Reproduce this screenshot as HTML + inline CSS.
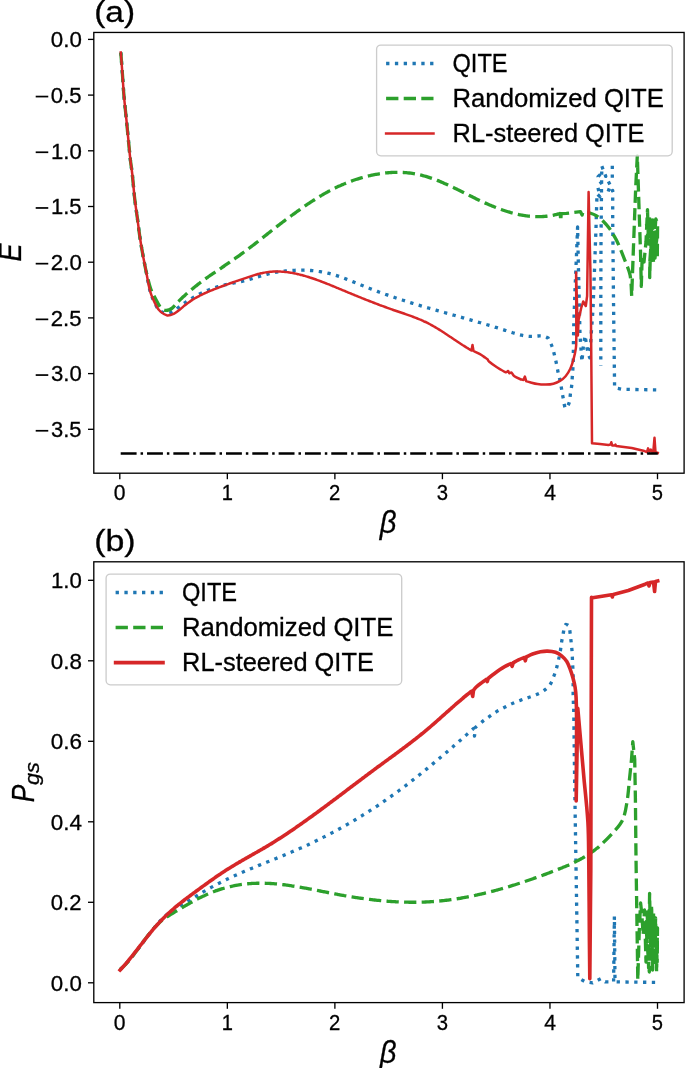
<!DOCTYPE html>
<html><head><meta charset="utf-8"><style>
html,body{margin:0;padding:0;background:#fff;overflow:hidden;}
svg{display:block;}
text{font-family:"Liberation Sans",sans-serif;fill:#000;stroke:#000;stroke-width:0.3px;filter:grayscale(1);}
</style></head><body>
<svg width="685" height="1068" viewBox="0 0 685 1068">
<rect width="685" height="1068" fill="#fff"/>
<g fill="none" stroke-linejoin="round">
<path d="M120.80,52.50 C121.07,56.03 121.87,66.42 122.40,73.70 C122.93,80.98 123.35,88.70 124.00,96.20 C124.65,103.70 125.55,111.22 126.30,118.70 C127.05,126.18 127.82,134.22 128.50,141.10 C129.18,147.98 129.77,154.47 130.40,160.00 C131.03,165.53 131.58,167.85 132.30,174.30 C133.02,180.75 133.88,191.60 134.70,198.70 C135.52,205.80 136.38,210.82 137.20,216.90 C138.02,222.98 138.70,229.12 139.60,235.20 C140.50,241.28 141.50,247.30 142.60,253.40 C143.70,259.50 144.92,265.38 146.20,271.80 C147.48,278.22 148.63,286.20 150.30,291.90 C151.97,297.60 154.42,302.77 156.20,306.00 C157.98,309.23 158.97,310.07 161.00,311.30 C163.03,312.53 165.90,313.70 168.40,313.40 C170.90,313.10 174.48,310.35 176.00,309.50 C177.52,308.65 177.00,308.69 177.50,308.30 C178.00,307.90 178.50,307.50 179.01,307.11 C179.51,306.72 180.01,306.34 180.51,305.96 C181.01,305.58 181.51,305.21 182.01,304.84 C182.51,304.47 183.01,304.11 183.51,303.75 C184.02,303.39 184.52,303.04 185.02,302.69 C185.52,302.35 186.02,302.00 186.52,301.67 C187.02,301.33 187.52,301.00 188.02,300.67 C188.52,300.35 189.02,300.03 189.53,299.71 C190.03,299.39 190.53,299.08 191.03,298.78 C191.53,298.47 192.03,298.17 192.53,297.87 C193.03,297.58 193.53,297.28 194.03,297.00 C194.53,296.71 195.04,296.43 195.54,296.15 C196.04,295.87 196.54,295.60 197.04,295.33 C197.54,295.07 198.04,294.80 198.54,294.55 C199.04,294.29 199.54,294.03 200.05,293.78 C200.55,293.54 201.05,293.29 201.55,293.05 C202.05,292.81 202.55,292.58 203.05,292.34 C203.55,292.11 204.05,291.89 204.55,291.66 C205.05,291.44 205.56,291.22 206.06,291.01 C206.56,290.80 207.06,290.59 207.56,290.38 C208.06,290.18 208.56,289.97 209.06,289.78 C209.56,289.58 210.06,289.39 210.56,289.20 C211.07,289.01 211.57,288.83 212.07,288.65 C212.57,288.47 213.07,288.29 213.57,288.12 C214.07,287.95 214.57,287.78 215.07,287.61 C215.57,287.45 216.08,287.29 216.58,287.13 C217.08,286.97 217.58,286.82 218.08,286.67 C218.58,286.52 219.08,286.38 219.58,286.24 C220.08,286.09 220.58,285.96 221.08,285.82 C221.59,285.69 222.09,285.56 222.59,285.43 C223.09,285.30 223.59,285.18 224.09,285.06 C224.59,284.94 225.09,284.82 225.59,284.70 C226.09,284.59 226.60,284.48 227.10,284.37 C227.60,284.26 228.10,284.15 228.60,284.04 C229.10,283.94 229.60,283.83 230.10,283.73 C230.60,283.62 231.10,283.52 231.60,283.42 C232.11,283.32 232.61,283.22 233.11,283.12 C233.61,283.02 234.11,282.92 234.61,282.82 C235.11,282.72 235.61,282.62 236.11,282.52 C236.61,282.42 237.11,282.32 237.62,282.21 C238.12,282.11 238.62,282.01 239.12,281.91 C239.62,281.80 240.12,281.70 240.62,281.59 C241.12,281.48 241.62,281.37 242.12,281.26 C242.63,281.15 243.13,281.04 243.63,280.92 C244.13,280.80 244.63,280.69 245.13,280.56 C245.63,280.44 246.13,280.32 246.63,280.19 C247.13,280.06 247.63,279.93 248.14,279.79 C248.64,279.65 249.14,279.51 249.64,279.37 C250.14,279.23 250.64,279.08 251.14,278.94 C251.64,278.79 252.14,278.64 252.64,278.49 C253.14,278.34 253.65,278.18 254.15,278.03 C254.65,277.87 255.15,277.72 255.65,277.56 C256.15,277.41 256.65,277.25 257.15,277.09 C257.65,276.94 258.15,276.78 258.66,276.63 C259.16,276.47 259.66,276.32 260.16,276.16 C260.66,276.01 261.16,275.86 261.66,275.71 C262.16,275.56 262.66,275.41 263.16,275.27 C263.66,275.13 264.17,274.98 264.67,274.85 C265.17,274.71 265.67,274.57 266.17,274.44 C266.67,274.31 267.17,274.18 267.67,274.06 C268.17,273.93 268.67,273.81 269.18,273.69 C269.68,273.57 270.18,273.46 270.68,273.35 C271.18,273.24 271.68,273.13 272.18,273.02 C272.68,272.92 273.18,272.82 273.68,272.72 C274.18,272.62 274.69,272.52 275.19,272.43 C275.69,272.34 276.19,272.25 276.69,272.16 C277.19,272.08 277.69,272.00 278.19,271.92 C278.69,271.84 279.19,271.76 279.69,271.68 C280.20,271.61 280.70,271.54 281.20,271.47 C281.70,271.40 282.20,271.34 282.70,271.28 C283.20,271.21 283.70,271.15 284.20,271.10 C284.70,271.04 285.21,270.99 285.71,270.94 C286.21,270.88 286.71,270.84 287.21,270.79 C287.71,270.74 288.21,270.70 288.71,270.66 C289.21,270.62 289.71,270.58 290.21,270.55 C290.72,270.51 291.22,270.48 291.72,270.45 C292.22,270.42 292.72,270.39 293.22,270.37 C293.72,270.34 294.22,270.32 294.72,270.30 C295.22,270.28 295.72,270.26 296.23,270.25 C296.73,270.23 297.23,270.22 297.73,270.21 C298.23,270.20 298.73,270.19 299.23,270.19 C299.73,270.18 300.23,270.18 300.73,270.18 C301.24,270.17 301.74,270.17 302.24,270.18 C302.74,270.18 303.24,270.19 303.74,270.20 C304.24,270.21 304.74,270.22 305.24,270.23 C305.74,270.24 306.24,270.26 306.75,270.28 C307.25,270.30 307.75,270.32 308.25,270.35 C308.75,270.37 309.25,270.40 309.75,270.43 C310.25,270.46 310.75,270.50 311.25,270.53 C311.75,270.57 312.26,270.61 312.76,270.65 C313.26,270.70 313.76,270.75 314.26,270.80 C314.76,270.85 315.26,270.90 315.76,270.96 C316.26,271.02 316.76,271.08 317.27,271.14 C317.77,271.21 318.27,271.28 318.77,271.35 C319.27,271.42 319.77,271.50 320.27,271.58 C320.77,271.66 321.27,271.74 321.77,271.83 C322.27,271.92 322.78,272.01 323.28,272.10 C323.78,272.20 324.28,272.30 324.78,272.41 C325.28,272.51 325.78,272.62 326.28,272.73 C326.78,272.85 327.28,272.96 327.79,273.09 C328.29,273.21 328.79,273.33 329.29,273.46 C329.79,273.59 330.29,273.73 330.79,273.86 C331.29,274.00 331.79,274.14 332.29,274.29 C332.79,274.43 333.30,274.58 333.80,274.73 C334.30,274.88 334.80,275.03 335.30,275.19 C335.80,275.35 336.30,275.51 336.80,275.67 C337.30,275.83 337.80,276.00 338.30,276.17 C338.81,276.34 339.31,276.51 339.81,276.68 C340.31,276.86 340.81,277.03 341.31,277.21 C341.81,277.39 342.31,277.57 342.81,277.75 C343.31,277.94 343.82,278.12 344.32,278.31 C344.82,278.50 345.32,278.68 345.82,278.88 C346.32,279.07 346.82,279.26 347.32,279.45 C347.82,279.65 348.32,279.84 348.82,280.04 C349.33,280.23 349.83,280.43 350.33,280.63 C350.83,280.83 351.33,281.03 351.83,281.23 C352.33,281.43 352.83,281.63 353.33,281.84 C353.83,282.04 354.33,282.24 354.84,282.45 C355.34,282.65 355.84,282.86 356.34,283.06 C356.84,283.27 357.34,283.47 357.84,283.68 C358.34,283.88 358.84,284.09 359.34,284.29 C359.85,284.50 360.35,284.70 360.85,284.91 C361.35,285.11 361.85,285.32 362.35,285.52 C362.85,285.73 363.35,285.93 363.85,286.13 C364.35,286.34 364.85,286.54 365.36,286.74 C365.86,286.94 366.36,287.14 366.86,287.34 C367.36,287.54 367.86,287.74 368.36,287.94 C368.86,288.14 369.36,288.33 369.86,288.53 C370.37,288.73 370.87,288.92 371.37,289.12 C371.87,289.31 372.37,289.50 372.87,289.69 C373.37,289.89 373.87,290.08 374.37,290.27 C374.87,290.46 375.37,290.65 375.88,290.84 C376.38,291.02 376.88,291.21 377.38,291.40 C377.88,291.58 378.38,291.77 378.88,291.95 C379.38,292.14 379.88,292.32 380.38,292.51 C380.88,292.69 381.39,292.87 381.89,293.05 C382.39,293.23 382.89,293.41 383.39,293.59 C383.89,293.77 384.39,293.95 384.89,294.13 C385.39,294.31 385.89,294.49 386.40,294.66 C386.90,294.84 387.40,295.01 387.90,295.19 C388.40,295.36 388.90,295.54 389.40,295.71 C389.90,295.89 390.40,296.06 390.90,296.23 C391.40,296.40 391.91,296.57 392.41,296.74 C392.91,296.91 393.41,297.08 393.91,297.25 C394.41,297.42 394.91,297.59 395.41,297.76 C395.91,297.92 396.41,298.09 396.91,298.26 C397.42,298.42 397.92,298.59 398.42,298.75 C398.92,298.92 399.42,299.08 399.92,299.25 C400.42,299.41 400.92,299.57 401.42,299.74 C401.92,299.90 402.43,300.06 402.93,300.22 C403.43,300.38 403.93,300.54 404.43,300.70 C404.93,300.86 405.43,301.02 405.93,301.18 C406.43,301.34 406.93,301.50 407.43,301.66 C407.94,301.82 408.44,301.97 408.94,302.13 C409.44,302.29 409.94,302.44 410.44,302.60 C410.94,302.75 411.44,302.91 411.94,303.06 C412.44,303.22 412.95,303.37 413.45,303.53 C413.95,303.68 414.45,303.83 414.95,303.99 C415.45,304.14 415.95,304.29 416.45,304.44 C416.95,304.59 417.45,304.75 417.95,304.90 C418.46,305.05 418.96,305.20 419.46,305.35 C419.96,305.50 420.46,305.65 420.96,305.80 C421.46,305.95 421.96,306.10 422.46,306.24 C422.96,306.39 423.46,306.54 423.97,306.69 C424.47,306.84 424.97,306.98 425.47,307.13 C425.97,307.28 426.47,307.43 426.97,307.57 C427.47,307.72 427.97,307.86 428.47,308.01 C428.98,308.16 429.48,308.30 429.98,308.45 C430.48,308.59 430.98,308.74 431.48,308.88 C431.98,309.03 432.48,309.17 432.98,309.32 C433.48,309.46 433.98,309.60 434.49,309.75 C434.99,309.89 435.49,310.03 435.99,310.18 C436.49,310.32 436.99,310.46 437.49,310.61 C437.99,310.75 438.49,310.89 438.99,311.04 C439.49,311.18 440.00,311.32 440.50,311.46 C441.00,311.60 441.50,311.75 442.00,311.89 C442.50,312.03 443.00,312.17 443.50,312.31 C444.00,312.46 444.50,312.60 445.01,312.74 C445.51,312.88 446.01,313.02 446.51,313.16 C447.01,313.30 447.51,313.44 448.01,313.58 C448.51,313.73 449.01,313.87 449.51,314.01 C450.01,314.15 450.52,314.29 451.02,314.43 C451.52,314.57 452.02,314.71 452.52,314.85 C453.02,314.99 453.52,315.13 454.02,315.27 C454.52,315.41 455.02,315.55 455.53,315.69 C456.03,315.84 456.53,315.98 457.03,316.12 C457.53,316.26 458.03,316.40 458.53,316.54 C459.03,316.68 459.53,316.82 460.03,316.96 C460.53,317.10 461.04,317.24 461.54,317.38 C462.04,317.52 462.54,317.67 463.04,317.81 C463.54,317.95 464.04,318.09 464.54,318.23 C465.04,318.37 465.54,318.51 466.04,318.66 C466.55,318.80 467.05,318.94 467.55,319.08 C468.05,319.22 468.55,319.36 469.05,319.51 C469.55,319.65 470.05,319.79 470.55,319.93 C471.05,320.08 471.56,320.22 472.06,320.36 C472.56,320.51 473.06,320.65 473.56,320.79 C474.06,320.94 474.56,321.08 475.06,321.22 C475.56,321.37 476.06,321.51 476.56,321.66 C477.07,321.80 477.57,321.94 478.07,322.09 C478.57,322.23 479.07,322.38 479.57,322.53 C480.07,322.67 480.57,322.82 481.07,322.96 C481.57,323.11 482.07,323.26 482.58,323.40 C483.08,323.55 483.58,323.70 484.08,323.84 C484.58,323.99 485.08,324.14 485.58,324.29 C486.08,324.44 486.58,324.58 487.08,324.73 C487.59,324.88 488.09,325.03 488.59,325.18 C489.09,325.33 489.59,325.48 490.09,325.63 C490.59,325.78 491.09,325.93 491.59,326.09 C492.09,326.24 492.59,326.39 493.10,326.54 C493.60,326.70 494.10,326.85 494.60,327.00 C495.10,327.16 495.60,327.31 496.10,327.46 C496.60,327.62 497.10,327.77 497.60,327.93 C498.10,328.08 498.61,328.24 499.11,328.40 C499.61,328.55 500.11,328.71 500.61,328.87 C501.11,329.03 501.61,329.18 502.11,329.34 C502.61,329.50 503.11,329.66 503.62,329.82 C504.12,329.98 504.62,330.14 505.12,330.30 C505.62,330.46 506.12,330.63 506.62,330.79 C507.12,330.95 507.62,331.11 508.12,331.28 C508.62,331.44 509.13,331.61 509.63,331.77 C510.13,331.93 510.63,332.10 511.13,332.26 C511.63,332.42 512.13,332.58 512.63,332.74 C513.13,332.90 513.63,333.06 514.14,333.21 C514.64,333.36 515.14,333.52 515.64,333.66 C516.14,333.81 516.64,333.96 517.14,334.10 C517.64,334.24 518.14,334.38 518.64,334.51 C519.14,334.64 519.65,334.77 520.15,334.89 C520.65,335.01 521.15,335.13 521.65,335.24 C522.15,335.35 522.65,335.46 523.15,335.55 C523.65,335.65 524.15,335.74 524.65,335.82 C525.16,335.91 525.66,335.98 526.16,336.05 C526.66,336.11 527.16,336.17 527.66,336.22 C528.16,336.27 528.66,336.31 529.16,336.34 C529.66,336.37 530.17,336.39 530.67,336.40 C531.17,336.41 531.67,336.41 532.17,336.40 C532.67,336.39 533.17,336.36 533.67,336.33 C534.17,336.30 534.67,336.25 535.17,336.21 C535.68,336.17 536.18,336.12 536.68,336.08 C537.18,336.04 537.68,336.00 538.18,335.97 C538.68,335.94 539.18,335.92 539.68,335.92 C540.18,335.91 540.68,335.92 541.19,335.95 C541.69,335.98 542.19,336.03 542.69,336.11 C543.19,336.19 543.69,336.29 544.19,336.43 C544.69,336.58 545.19,336.74 545.69,336.95 C546.20,337.16 546.70,337.41 547.20,337.70 C547.70,338.00 547.85,337.13 548.70,338.72 C549.55,340.30 551.32,344.39 552.30,347.20 C553.28,350.01 553.90,352.80 554.60,355.60 C555.30,358.40 555.90,361.12 556.50,364.00 C557.10,366.88 557.58,370.02 558.20,372.90 C558.82,375.78 559.62,378.48 560.20,381.30 C560.78,384.12 561.20,386.98 561.70,389.80 C562.20,392.62 562.57,395.12 563.20,398.20 C563.83,401.28 564.48,407.60 565.50,408.30 C566.52,409.00 568.48,404.78 569.30,402.40 C570.12,400.02 570.00,396.82 570.40,394.00 C570.80,391.18 571.38,388.40 571.70,385.50 C572.02,382.60 572.10,379.48 572.30,376.60 C572.50,373.72 572.73,371.08 572.90,368.20 C573.07,365.32 573.22,363.17 573.30,359.30 C573.38,355.43 573.32,350.85 573.40,345.00 C573.48,339.15 573.73,327.67 573.80,324.20 L575.00,290.00 L576.50,255.00 L577.60,227.00 L578.30,262.00 L579.20,300.00 L580.00,335.00 L581.90,361.70 L583.50,345.00 L585.10,335.50 L587.00,348.00 L588.40,354.00 L589.70,357.80 L591.50,330.00 L593.00,309.30 L594.50,270.00 L596.00,228.00 L597.00,193.80 L599.90,196.70 L597.40,185.00 L601.40,182.50 L598.10,176.60 L601.40,173.40 L605.80,176.30 L601.80,166.10 L601.50,190.00 L601.00,240.00 L600.80,300.00 L600.80,365.50 M612.30,165.70 L612.30,181.40 L607.20,184.00 L609.40,188.00 L607.60,193.10 L612.70,190.50 L612.70,220.00 L613.50,300.00 L614.60,387.70 L622.50,389.30 L640.00,389.60 L656.70,389.90" stroke="#1f77b4" stroke-width="3.32" stroke-dasharray="3.32 5.48"/>
<path d="M120.80,52.50 C121.07,56.03 121.87,66.42 122.40,73.70 C122.93,80.98 123.35,88.70 124.00,96.20 C124.65,103.70 125.55,111.22 126.30,118.70 C127.05,126.18 127.82,134.22 128.50,141.10 C129.18,147.98 129.77,154.47 130.40,160.00 C131.03,165.53 131.58,167.85 132.30,174.30 C133.02,180.75 133.88,191.60 134.70,198.70 C135.52,205.80 136.38,210.82 137.20,216.90 C138.02,222.98 138.70,229.12 139.60,235.20 C140.50,241.28 141.50,247.30 142.60,253.40 C143.70,259.50 145.05,266.53 146.20,271.80 C147.35,277.07 148.62,281.80 149.50,285.00 C150.38,288.20 150.78,289.25 151.50,291.00 C152.22,292.75 152.65,293.30 153.80,295.50 C154.95,297.70 157.10,302.02 158.40,304.20 C159.70,306.38 160.43,307.58 161.60,308.60 C162.77,309.62 164.17,310.10 165.40,310.30 C166.63,310.50 167.87,310.17 169.00,309.80 C170.13,309.43 171.03,309.02 172.20,308.10 C173.37,307.18 175.12,305.25 176.00,304.30 C176.88,303.35 177.00,302.97 177.51,302.40 C178.01,301.83 178.51,301.39 179.01,300.89 C179.51,300.40 180.01,299.91 180.52,299.42 C181.02,298.94 181.52,298.46 182.02,297.98 C182.52,297.51 183.02,297.04 183.53,296.58 C184.03,296.11 184.53,295.65 185.03,295.20 C185.53,294.74 186.03,294.29 186.54,293.85 C187.04,293.40 187.54,292.96 188.04,292.52 C188.54,292.09 189.04,291.66 189.55,291.23 C190.05,290.80 190.55,290.38 191.05,289.96 C191.55,289.54 192.05,289.12 192.56,288.71 C193.06,288.30 193.56,287.89 194.06,287.48 C194.56,287.08 195.06,286.68 195.57,286.28 C196.07,285.88 196.57,285.49 197.07,285.10 C197.57,284.71 198.07,284.32 198.58,283.94 C199.08,283.55 199.58,283.17 200.08,282.79 C200.58,282.41 201.08,282.04 201.59,281.66 C202.09,281.29 202.59,280.92 203.09,280.55 C203.59,280.18 204.10,279.82 204.60,279.45 C205.10,279.09 205.60,278.73 206.10,278.37 C206.60,278.01 207.11,277.65 207.61,277.30 C208.11,276.94 208.61,276.59 209.11,276.24 C209.61,275.89 210.12,275.54 210.62,275.19 C211.12,274.84 211.62,274.49 212.12,274.15 C212.62,273.80 213.13,273.46 213.63,273.11 C214.13,272.77 214.63,272.43 215.13,272.08 C215.63,271.74 216.14,271.40 216.64,271.06 C217.14,270.72 217.64,270.38 218.14,270.04 C218.64,269.71 219.15,269.37 219.65,269.03 C220.15,268.69 220.65,268.35 221.15,268.02 C221.65,267.68 222.16,267.34 222.66,267.00 C223.16,266.66 223.66,266.32 224.16,265.99 C224.66,265.65 225.17,265.31 225.67,264.97 C226.17,264.63 226.67,264.29 227.17,263.95 C227.68,263.61 228.18,263.27 228.68,262.92 C229.18,262.58 229.68,262.24 230.18,261.89 C230.69,261.55 231.19,261.20 231.69,260.85 C232.19,260.50 232.69,260.16 233.19,259.81 C233.70,259.45 234.20,259.10 234.70,258.75 C235.20,258.40 235.70,258.04 236.20,257.69 C236.71,257.33 237.21,256.97 237.71,256.62 C238.21,256.26 238.71,255.90 239.21,255.54 C239.72,255.18 240.22,254.81 240.72,254.45 C241.22,254.09 241.72,253.72 242.22,253.36 C242.73,252.99 243.23,252.62 243.73,252.25 C244.23,251.88 244.73,251.51 245.23,251.14 C245.74,250.77 246.24,250.40 246.74,250.02 C247.24,249.65 247.74,249.27 248.24,248.90 C248.75,248.52 249.25,248.14 249.75,247.76 C250.25,247.38 250.75,247.00 251.25,246.62 C251.76,246.24 252.26,245.86 252.76,245.47 C253.26,245.09 253.76,244.70 254.27,244.31 C254.77,243.93 255.27,243.54 255.77,243.15 C256.27,242.76 256.77,242.37 257.28,241.98 C257.78,241.58 258.28,241.19 258.78,240.80 C259.28,240.40 259.78,240.01 260.29,239.61 C260.79,239.22 261.29,238.82 261.79,238.42 C262.29,238.03 262.79,237.63 263.30,237.23 C263.80,236.83 264.30,236.44 264.80,236.04 C265.30,235.64 265.80,235.24 266.31,234.84 C266.81,234.45 267.31,234.05 267.81,233.65 C268.31,233.25 268.81,232.86 269.32,232.46 C269.82,232.06 270.32,231.67 270.82,231.27 C271.32,230.88 271.82,230.48 272.33,230.09 C272.83,229.69 273.33,229.30 273.83,228.91 C274.33,228.52 274.83,228.12 275.34,227.73 C275.84,227.34 276.34,226.96 276.84,226.57 C277.34,226.18 277.84,225.79 278.35,225.41 C278.85,225.02 279.35,224.64 279.85,224.25 C280.35,223.87 280.86,223.49 281.36,223.11 C281.86,222.73 282.36,222.34 282.86,221.97 C283.36,221.59 283.87,221.21 284.37,220.83 C284.87,220.45 285.37,220.08 285.87,219.70 C286.37,219.33 286.88,218.95 287.38,218.58 C287.88,218.21 288.38,217.84 288.88,217.47 C289.38,217.10 289.89,216.73 290.39,216.36 C290.89,215.99 291.39,215.62 291.89,215.26 C292.39,214.89 292.90,214.53 293.40,214.17 C293.90,213.80 294.40,213.44 294.90,213.08 C295.40,212.72 295.91,212.36 296.41,212.00 C296.91,211.64 297.41,211.28 297.91,210.93 C298.41,210.57 298.92,210.21 299.42,209.86 C299.92,209.51 300.42,209.16 300.92,208.80 C301.42,208.45 301.93,208.10 302.43,207.76 C302.93,207.41 303.43,207.06 303.93,206.72 C304.44,206.37 304.94,206.03 305.44,205.68 C305.94,205.34 306.44,205.00 306.94,204.66 C307.45,204.33 307.95,203.99 308.45,203.65 C308.95,203.32 309.45,202.99 309.95,202.65 C310.46,202.32 310.96,201.99 311.46,201.67 C311.96,201.34 312.46,201.01 312.96,200.69 C313.47,200.37 313.97,200.04 314.47,199.73 C314.97,199.41 315.47,199.09 315.97,198.77 C316.48,198.46 316.98,198.15 317.48,197.84 C317.98,197.53 318.48,197.22 318.98,196.91 C319.49,196.61 319.99,196.30 320.49,196.00 C320.99,195.70 321.49,195.40 321.99,195.11 C322.50,194.81 323.00,194.52 323.50,194.23 C324.00,193.93 324.50,193.65 325.00,193.36 C325.51,193.08 326.01,192.79 326.51,192.51 C327.01,192.23 327.51,191.96 328.01,191.68 C328.52,191.41 329.02,191.13 329.52,190.87 C330.02,190.60 330.52,190.33 331.03,190.07 C331.53,189.81 332.03,189.55 332.53,189.29 C333.03,189.03 333.53,188.78 334.04,188.53 C334.54,188.28 335.04,188.03 335.54,187.79 C336.04,187.55 336.54,187.30 337.05,187.07 C337.55,186.83 338.05,186.59 338.55,186.36 C339.05,186.13 339.55,185.90 340.06,185.68 C340.56,185.45 341.06,185.23 341.56,185.01 C342.06,184.79 342.56,184.57 343.07,184.36 C343.57,184.14 344.07,183.93 344.57,183.72 C345.07,183.52 345.57,183.31 346.08,183.11 C346.58,182.91 347.08,182.71 347.58,182.51 C348.08,182.32 348.58,182.12 349.09,181.93 C349.59,181.74 350.09,181.55 350.59,181.37 C351.09,181.18 351.59,181.00 352.10,180.82 C352.60,180.64 353.10,180.47 353.60,180.29 C354.10,180.12 354.60,179.95 355.11,179.78 C355.61,179.62 356.11,179.45 356.61,179.29 C357.11,179.13 357.62,178.97 358.12,178.81 C358.62,178.65 359.12,178.50 359.62,178.35 C360.12,178.20 360.63,178.05 361.13,177.90 C361.63,177.76 362.13,177.62 362.63,177.48 C363.13,177.33 363.64,177.20 364.14,177.06 C364.64,176.93 365.14,176.80 365.64,176.67 C366.14,176.54 366.65,176.41 367.15,176.29 C367.65,176.16 368.15,176.04 368.65,175.92 C369.15,175.80 369.66,175.69 370.16,175.57 C370.66,175.46 371.16,175.35 371.66,175.24 C372.16,175.13 372.67,175.03 373.17,174.92 C373.67,174.82 374.17,174.72 374.67,174.62 C375.17,174.53 375.68,174.43 376.18,174.34 C376.68,174.25 377.18,174.16 377.68,174.08 C378.18,173.99 378.69,173.91 379.19,173.83 C379.69,173.75 380.19,173.67 380.69,173.60 C381.20,173.53 381.70,173.46 382.20,173.39 C382.70,173.32 383.20,173.26 383.70,173.20 C384.21,173.13 384.71,173.08 385.21,173.02 C385.71,172.97 386.21,172.91 386.71,172.87 C387.22,172.82 387.72,172.77 388.22,172.73 C388.72,172.69 389.22,172.65 389.72,172.61 C390.23,172.58 390.73,172.55 391.23,172.52 C391.73,172.49 392.23,172.46 392.73,172.44 C393.24,172.42 393.74,172.40 394.24,172.39 C394.74,172.37 395.24,172.36 395.74,172.35 C396.25,172.34 396.75,172.34 397.25,172.34 C397.75,172.33 398.25,172.34 398.75,172.34 C399.26,172.35 399.76,172.36 400.26,172.37 C400.76,172.38 401.26,172.40 401.76,172.42 C402.27,172.44 402.77,172.47 403.27,172.49 C403.77,172.52 404.27,172.55 404.77,172.59 C405.28,172.62 405.78,172.66 406.28,172.71 C406.78,172.75 407.28,172.80 407.79,172.85 C408.29,172.90 408.79,172.95 409.29,173.01 C409.79,173.07 410.29,173.13 410.80,173.20 C411.30,173.26 411.80,173.33 412.30,173.41 C412.80,173.48 413.30,173.56 413.81,173.64 C414.31,173.72 414.81,173.81 415.31,173.90 C415.81,173.99 416.31,174.09 416.82,174.18 C417.32,174.28 417.82,174.38 418.32,174.49 C418.82,174.60 419.32,174.71 419.83,174.83 C420.33,174.94 420.83,175.06 421.33,175.18 C421.83,175.31 422.33,175.44 422.84,175.57 C423.34,175.70 423.84,175.84 424.34,175.98 C424.84,176.12 425.34,176.26 425.85,176.41 C426.35,176.56 426.85,176.71 427.35,176.87 C427.85,177.02 428.35,177.18 428.86,177.35 C429.36,177.51 429.86,177.68 430.36,177.85 C430.86,178.02 431.36,178.19 431.87,178.37 C432.37,178.54 432.87,178.73 433.37,178.91 C433.87,179.09 434.38,179.28 434.88,179.47 C435.38,179.66 435.88,179.85 436.38,180.05 C436.88,180.24 437.39,180.44 437.89,180.64 C438.39,180.84 438.89,181.04 439.39,181.25 C439.89,181.46 440.40,181.67 440.90,181.88 C441.40,182.09 441.90,182.30 442.40,182.52 C442.90,182.73 443.41,182.95 443.91,183.17 C444.41,183.39 444.91,183.61 445.41,183.84 C445.91,184.06 446.42,184.29 446.92,184.52 C447.42,184.74 447.92,184.97 448.42,185.20 C448.92,185.44 449.43,185.67 449.93,185.90 C450.43,186.14 450.93,186.37 451.43,186.61 C451.93,186.85 452.44,187.09 452.94,187.33 C453.44,187.57 453.94,187.81 454.44,188.05 C454.94,188.29 455.45,188.54 455.95,188.78 C456.45,189.02 456.95,189.27 457.45,189.52 C457.96,189.76 458.46,190.01 458.96,190.26 C459.46,190.50 459.96,190.75 460.46,191.00 C460.97,191.25 461.47,191.50 461.97,191.75 C462.47,192.00 462.97,192.25 463.47,192.50 C463.98,192.75 464.48,193.00 464.98,193.25 C465.48,193.50 465.98,193.75 466.48,194.00 C466.99,194.25 467.49,194.50 467.99,194.74 C468.49,194.99 468.99,195.24 469.49,195.49 C470.00,195.74 470.50,195.99 471.00,196.24 C471.50,196.49 472.00,196.73 472.50,196.98 C473.01,197.23 473.51,197.47 474.01,197.72 C474.51,197.96 475.01,198.21 475.51,198.45 C476.02,198.69 476.52,198.94 477.02,199.18 C477.52,199.42 478.02,199.66 478.52,199.90 C479.03,200.14 479.53,200.38 480.03,200.61 C480.53,200.85 481.03,201.08 481.53,201.32 C482.04,201.55 482.54,201.78 483.04,202.01 C483.54,202.24 484.04,202.47 484.55,202.69 C485.05,202.92 485.55,203.15 486.05,203.37 C486.55,203.59 487.05,203.81 487.56,204.03 C488.06,204.25 488.56,204.47 489.06,204.69 C489.56,204.90 490.06,205.12 490.57,205.33 C491.07,205.54 491.57,205.75 492.07,205.96 C492.57,206.17 493.07,206.37 493.58,206.58 C494.08,206.78 494.58,206.98 495.08,207.18 C495.58,207.38 496.08,207.57 496.59,207.77 C497.09,207.96 497.59,208.16 498.09,208.35 C498.59,208.53 499.09,208.72 499.60,208.91 C500.10,209.09 500.60,209.27 501.10,209.45 C501.60,209.63 502.10,209.81 502.61,209.98 C503.11,210.16 503.61,210.33 504.11,210.50 C504.61,210.67 505.11,210.83 505.62,210.99 C506.12,211.16 506.62,211.32 507.12,211.47 C507.62,211.63 508.12,211.79 508.63,211.94 C509.13,212.09 509.63,212.24 510.13,212.38 C510.63,212.53 511.14,212.67 511.64,212.81 C512.14,212.94 512.64,213.08 513.14,213.21 C513.64,213.34 514.15,213.47 514.65,213.60 C515.15,213.72 515.65,213.85 516.15,213.97 C516.65,214.08 517.16,214.20 517.66,214.31 C518.16,214.42 518.66,214.53 519.16,214.64 C519.66,214.74 520.17,214.84 520.67,214.94 C521.17,215.03 521.67,215.13 522.17,215.22 C522.67,215.31 523.18,215.39 523.68,215.48 C524.18,215.56 524.68,215.64 525.18,215.71 C525.68,215.78 526.19,215.85 526.69,215.92 C527.19,215.99 527.69,216.05 528.19,216.11 C528.69,216.16 529.20,216.22 529.70,216.27 C530.20,216.32 530.70,216.36 531.20,216.40 C531.70,216.44 532.21,216.48 532.71,216.51 C533.21,216.55 533.71,216.57 534.21,216.60 C534.72,216.62 535.22,216.64 535.72,216.65 C536.22,216.67 536.72,216.68 537.22,216.68 C537.73,216.69 538.23,216.69 538.73,216.69 C539.23,216.68 539.73,216.67 540.23,216.66 C540.74,216.65 541.24,216.63 541.74,216.60 C542.24,216.58 542.74,216.55 543.24,216.52 C543.75,216.49 544.25,216.45 544.75,216.40 C545.25,216.36 545.75,216.31 546.25,216.26 C546.76,216.21 547.26,216.15 547.76,216.08 C548.26,216.02 548.76,215.95 549.26,215.88 C549.77,215.80 550.27,215.72 550.77,215.64 C551.27,215.55 551.77,215.46 552.27,215.37 C552.78,215.27 553.28,215.17 553.78,215.06 C554.28,214.95 554.78,214.84 555.28,214.72 C555.79,214.61 556.29,214.48 556.79,214.35 C557.29,214.22 557.79,214.09 558.29,213.95 C558.80,213.80 559.55,213.58 559.80,213.50 L560.30,213.80 L560.70,220.80 L561.20,213.70 L566.40,213.40 L573.40,212.50 L580.40,211.60 L582.10,215.10 L583.00,211.80 L588.30,212.50 L588.30,212.50 C589.62,213.02 593.72,214.13 596.20,215.60 C598.68,217.07 601.02,219.18 603.20,221.30 C605.38,223.42 607.55,225.97 609.30,228.30 C611.05,230.63 612.28,232.85 613.70,235.30 C615.12,237.75 616.00,238.98 617.80,243.00 C619.60,247.02 622.45,254.02 624.50,259.40 C626.55,264.78 628.90,269.20 630.10,275.30 C631.30,281.40 631.43,292.55 631.70,296.00 L633.30,251.40 L635.70,187.70 L637.30,155.90 L638.90,203.70 L640.50,251.40 L641.30,286.40 L642.20,256.00 L644.00,262.00 L646.00,242.00 L647.50,209.60 L648.30,236.00 L650.00,219.00 L651.20,252.00 L652.80,220.00 L654.00,248.00 L655.80,219.00 L657.60,223.00 L657.30,258.00 L655.30,232.00 L653.50,262.00 L651.50,238.00 L649.80,262.00 L649.70,277.60 L650.20,260.00 L652.50,246.00 L655.00,258.00 L657.00,236.00 L656.00,226.00 L652.00,229.00 L648.50,244.00 L646.50,224.00" stroke="#2ca02c" stroke-width="3.32" stroke-dasharray="12.3 5.3"/>
<path d="M120.80,52.50 C121.07,56.03 121.87,66.42 122.40,73.70 C122.93,80.98 123.35,88.70 124.00,96.20 C124.65,103.70 125.55,111.22 126.30,118.70 C127.05,126.18 127.82,134.22 128.50,141.10 C129.18,147.98 129.77,154.47 130.40,160.00 C131.03,165.53 131.58,167.85 132.30,174.30 C133.02,180.75 133.88,191.60 134.70,198.70 C135.52,205.80 136.38,210.82 137.20,216.90 C138.02,222.98 138.70,229.12 139.60,235.20 C140.50,241.28 141.50,247.30 142.60,253.40 C143.70,259.50 144.92,265.38 146.20,271.80 C147.48,278.22 148.55,286.10 150.30,291.90 C152.05,297.70 154.95,303.27 156.70,306.60 C158.45,309.93 159.05,310.43 160.80,311.90 C162.55,313.37 164.97,315.12 167.20,315.40 C169.43,315.68 172.07,314.58 174.20,313.60 C176.33,312.62 178.78,310.41 180.00,309.50 C181.22,308.59 181.00,308.60 181.50,308.16 C182.00,307.72 182.50,307.27 183.01,306.85 C183.51,306.42 184.01,306.00 184.51,305.59 C185.01,305.18 185.51,304.78 186.01,304.40 C186.51,304.01 187.01,303.63 187.51,303.25 C188.01,302.88 188.51,302.52 189.02,302.16 C189.52,301.81 190.02,301.46 190.52,301.13 C191.02,300.79 191.52,300.46 192.02,300.13 C192.52,299.81 193.02,299.49 193.52,299.19 C194.02,298.88 194.52,298.58 195.03,298.28 C195.53,297.99 196.03,297.70 196.53,297.41 C197.03,297.13 197.53,296.86 198.03,296.59 C198.53,296.31 199.03,296.05 199.53,295.79 C200.03,295.53 200.54,295.28 201.04,295.03 C201.54,294.78 202.04,294.53 202.54,294.29 C203.04,294.05 203.54,293.82 204.04,293.58 C204.54,293.35 205.04,293.13 205.54,292.90 C206.04,292.68 206.55,292.46 207.05,292.24 C207.55,292.02 208.05,291.81 208.55,291.59 C209.05,291.38 209.55,291.17 210.05,290.96 C210.55,290.76 211.05,290.55 211.55,290.35 C212.05,290.15 212.56,289.94 213.06,289.74 C213.56,289.54 214.06,289.35 214.56,289.15 C215.06,288.95 215.56,288.75 216.06,288.56 C216.56,288.36 217.06,288.17 217.56,287.98 C218.07,287.78 218.57,287.59 219.07,287.40 C219.57,287.21 220.07,287.02 220.57,286.83 C221.07,286.64 221.57,286.45 222.07,286.27 C222.57,286.08 223.07,285.90 223.57,285.71 C224.08,285.53 224.58,285.34 225.08,285.16 C225.58,284.98 226.08,284.79 226.58,284.61 C227.08,284.43 227.58,284.25 228.08,284.07 C228.58,283.89 229.08,283.71 229.59,283.53 C230.09,283.36 230.59,283.18 231.09,283.00 C231.59,282.82 232.09,282.65 232.59,282.47 C233.09,282.30 233.59,282.12 234.09,281.95 C234.59,281.77 235.09,281.60 235.60,281.43 C236.10,281.25 236.60,281.08 237.10,280.91 C237.60,280.74 238.10,280.57 238.60,280.39 C239.10,280.22 239.60,280.05 240.10,279.88 C240.60,279.71 241.10,279.54 241.61,279.37 C242.11,279.20 242.61,279.03 243.11,278.87 C243.61,278.70 244.11,278.53 244.61,278.36 C245.11,278.19 245.61,278.02 246.11,277.86 C246.61,277.69 247.12,277.52 247.62,277.35 C248.12,277.19 248.62,277.02 249.12,276.85 C249.62,276.68 250.12,276.52 250.62,276.35 C251.12,276.18 251.62,276.02 252.12,275.85 C252.62,275.69 253.13,275.52 253.63,275.36 C254.13,275.20 254.63,275.04 255.13,274.89 C255.63,274.73 256.13,274.58 256.63,274.43 C257.13,274.28 257.63,274.14 258.13,274.00 C258.63,273.86 259.14,273.73 259.64,273.60 C260.14,273.48 260.64,273.35 261.14,273.24 C261.64,273.12 262.14,273.01 262.64,272.91 C263.14,272.81 263.64,272.71 264.14,272.62 C264.65,272.53 265.15,272.45 265.65,272.37 C266.15,272.29 266.65,272.21 267.15,272.15 C267.65,272.08 268.15,272.02 268.65,271.96 C269.15,271.90 269.65,271.85 270.15,271.81 C270.66,271.76 271.16,271.72 271.66,271.69 C272.16,271.65 272.66,271.62 273.16,271.60 C273.66,271.57 274.16,271.56 274.66,271.54 C275.16,271.53 275.66,271.52 276.16,271.52 C276.67,271.51 277.17,271.51 277.67,271.52 C278.17,271.52 278.67,271.54 279.17,271.55 C279.67,271.57 280.17,271.59 280.67,271.61 C281.17,271.64 281.67,271.67 282.18,271.70 C282.68,271.74 283.18,271.78 283.68,271.82 C284.18,271.86 284.68,271.91 285.18,271.96 C285.68,272.01 286.18,272.07 286.68,272.13 C287.18,272.19 287.68,272.25 288.19,272.32 C288.69,272.39 289.19,272.46 289.69,272.54 C290.19,272.62 290.69,272.70 291.19,272.78 C291.69,272.87 292.19,272.95 292.69,273.05 C293.19,273.14 293.70,273.23 294.20,273.33 C294.70,273.43 295.20,273.54 295.70,273.64 C296.20,273.75 296.70,273.86 297.20,273.97 C297.70,274.08 298.20,274.20 298.70,274.32 C299.20,274.44 299.71,274.56 300.21,274.69 C300.71,274.81 301.21,274.94 301.71,275.07 C302.21,275.21 302.71,275.34 303.21,275.48 C303.71,275.62 304.21,275.76 304.71,275.90 C305.21,276.04 305.72,276.19 306.22,276.34 C306.72,276.49 307.22,276.64 307.72,276.80 C308.22,276.95 308.72,277.11 309.22,277.27 C309.72,277.42 310.22,277.59 310.72,277.75 C311.23,277.91 311.73,278.08 312.23,278.25 C312.73,278.42 313.23,278.59 313.73,278.76 C314.23,278.93 314.73,279.11 315.23,279.28 C315.73,279.46 316.23,279.64 316.73,279.82 C317.24,280.00 317.74,280.18 318.24,280.36 C318.74,280.55 319.24,280.73 319.74,280.92 C320.24,281.11 320.74,281.30 321.24,281.49 C321.74,281.68 322.24,281.87 322.74,282.06 C323.25,282.26 323.75,282.45 324.25,282.65 C324.75,282.84 325.25,283.04 325.75,283.24 C326.25,283.44 326.75,283.64 327.25,283.84 C327.75,284.04 328.25,284.24 328.76,284.44 C329.26,284.64 329.76,284.84 330.26,285.05 C330.76,285.25 331.26,285.46 331.76,285.66 C332.26,285.87 332.76,286.07 333.26,286.28 C333.76,286.49 334.26,286.69 334.77,286.90 C335.27,287.11 335.77,287.32 336.27,287.53 C336.77,287.73 337.27,287.94 337.77,288.15 C338.27,288.36 338.77,288.57 339.27,288.78 C339.77,288.99 340.27,289.20 340.78,289.40 C341.28,289.61 341.78,289.82 342.28,290.03 C342.78,290.24 343.28,290.45 343.78,290.66 C344.28,290.87 344.78,291.08 345.28,291.28 C345.78,291.49 346.29,291.70 346.79,291.91 C347.29,292.11 347.79,292.32 348.29,292.53 C348.79,292.74 349.29,292.94 349.79,293.15 C350.29,293.36 350.79,293.56 351.29,293.77 C351.79,293.98 352.30,294.18 352.80,294.39 C353.30,294.59 353.80,294.80 354.30,295.00 C354.80,295.21 355.30,295.41 355.80,295.62 C356.30,295.82 356.80,296.02 357.30,296.23 C357.80,296.43 358.31,296.63 358.81,296.84 C359.31,297.04 359.81,297.24 360.31,297.44 C360.81,297.65 361.31,297.85 361.81,298.05 C362.31,298.25 362.81,298.45 363.31,298.65 C363.82,298.85 364.32,299.05 364.82,299.25 C365.32,299.45 365.82,299.65 366.32,299.85 C366.82,300.04 367.32,300.24 367.82,300.44 C368.32,300.64 368.82,300.83 369.32,301.03 C369.83,301.23 370.33,301.42 370.83,301.62 C371.33,301.81 371.83,302.01 372.33,302.20 C372.83,302.39 373.33,302.59 373.83,302.78 C374.33,302.97 374.83,303.17 375.34,303.36 C375.84,303.55 376.34,303.74 376.84,303.93 C377.34,304.12 377.84,304.31 378.34,304.50 C378.84,304.69 379.34,304.88 379.84,305.07 C380.34,305.25 380.84,305.44 381.35,305.63 C381.85,305.81 382.35,306.00 382.85,306.19 C383.35,306.37 383.85,306.55 384.35,306.74 C384.85,306.92 385.35,307.10 385.85,307.29 C386.35,307.47 386.85,307.65 387.36,307.83 C387.86,308.01 388.36,308.19 388.86,308.37 C389.36,308.55 389.86,308.73 390.36,308.91 C390.86,309.08 391.36,309.26 391.86,309.44 C392.36,309.61 392.87,309.79 393.37,309.96 C393.87,310.14 394.37,310.31 394.87,310.48 C395.37,310.65 395.87,310.83 396.37,311.00 C396.87,311.17 397.37,311.34 397.87,311.51 C398.37,311.68 398.88,311.85 399.38,312.02 C399.88,312.19 400.38,312.35 400.88,312.52 C401.38,312.69 401.88,312.86 402.38,313.03 C402.88,313.20 403.38,313.37 403.88,313.54 C404.38,313.71 404.89,313.89 405.39,314.06 C405.89,314.23 406.39,314.40 406.89,314.58 C407.39,314.75 407.89,314.93 408.39,315.10 C408.89,315.28 409.39,315.46 409.89,315.64 C410.40,315.82 410.90,316.00 411.40,316.18 C411.90,316.36 412.40,316.55 412.90,316.74 C413.40,316.92 413.90,317.11 414.40,317.30 C414.90,317.49 415.40,317.69 415.90,317.88 C416.41,318.08 416.91,318.28 417.41,318.48 C417.91,318.68 418.41,318.89 418.91,319.09 C419.41,319.30 419.91,319.51 420.41,319.73 C420.91,319.94 421.41,320.16 421.91,320.38 C422.42,320.60 422.92,320.82 423.42,321.05 C423.92,321.28 424.42,321.51 424.92,321.75 C425.42,321.98 425.92,322.22 426.42,322.47 C426.92,322.71 427.42,322.96 427.93,323.21 C428.43,323.47 428.93,323.73 429.43,323.99 C429.93,324.25 430.43,324.52 430.93,324.79 C431.43,325.06 431.93,325.34 432.43,325.62 C432.93,325.90 433.43,326.18 433.94,326.47 C434.44,326.76 434.94,327.05 435.44,327.34 C435.94,327.64 436.44,327.94 436.94,328.24 C437.44,328.54 437.94,328.84 438.44,329.15 C438.94,329.46 439.45,329.77 439.95,330.08 C440.45,330.40 440.95,330.71 441.45,331.03 C441.95,331.35 442.45,331.67 442.95,331.99 C443.45,332.31 443.95,332.63 444.45,332.96 C444.95,333.29 445.46,333.61 445.96,333.94 C446.46,334.27 446.96,334.60 447.46,334.93 C447.96,335.27 448.46,335.60 448.96,335.93 C449.46,336.27 449.96,336.60 450.46,336.93 C450.96,337.27 451.47,337.61 451.97,337.94 C452.47,338.28 452.97,338.61 453.47,338.95 C453.97,339.28 454.47,339.62 454.97,339.96 C455.47,340.29 455.97,340.63 456.47,340.96 C456.98,341.30 457.48,341.63 457.98,341.97 C458.48,342.30 458.98,342.63 459.48,342.96 C459.98,343.29 460.48,343.63 460.98,343.95 C461.48,344.28 461.98,344.61 462.48,344.94 C462.99,345.26 463.49,345.59 463.99,345.91 C464.49,346.23 464.99,346.55 465.49,346.87 C465.99,347.18 466.49,347.50 466.99,347.81 C467.49,348.12 467.99,348.44 468.49,348.74 C469.00,349.05 469.50,349.35 470.00,349.65 C470.50,349.96 471.25,350.40 471.50,350.55 L472.50,344.90 L473.50,351.00 L473.50,351.00 C474.58,351.53 478.08,353.12 480.00,354.20 C481.92,355.28 483.72,356.62 485.00,357.50 C486.28,358.38 487.03,358.83 487.70,359.50 C488.37,360.17 487.47,360.20 489.00,361.50 C490.53,362.80 494.13,365.52 496.90,367.30 C499.67,369.08 503.75,371.58 505.60,372.20 C507.45,372.82 507.35,370.82 508.00,371.00 C508.65,371.18 508.92,373.05 509.50,373.30 C510.08,373.55 510.68,372.00 511.50,372.50 C512.32,373.00 512.75,375.12 514.40,376.30 C516.05,377.48 520.23,379.05 521.40,379.60 L523.50,379.90 L524.90,376.60 L526.20,381.20 L526.20,381.20 C526.83,381.38 528.12,381.82 530.00,382.30 C531.88,382.78 534.85,383.72 537.50,384.10 C540.15,384.48 543.25,384.67 545.90,384.60 C548.55,384.53 551.05,384.32 553.40,383.70 C555.75,383.08 557.97,382.15 560.00,380.90 C562.03,379.65 563.88,378.23 565.60,376.20 C567.32,374.17 568.98,371.52 570.30,368.70 C571.62,365.88 572.57,362.73 573.50,359.30 C574.43,355.87 575.43,351.53 575.90,348.10 C576.37,344.67 576.23,340.27 576.30,338.70 L576.30,320.00 L576.10,272.60 L577.90,335.50 L578.60,319.80 L581.20,308.00 L583.20,301.50 L585.80,306.00 L587.10,296.20 L588.60,192.00 L590.40,270.00 L591.00,322.40 L592.00,443.30 L600.00,444.00 L608.40,444.90 L610.60,444.60 L611.30,442.30 L612.20,445.40 L614.80,445.50 L615.40,444.60 L616.20,446.00 L631.70,448.00 L643.40,450.70 L646.90,452.10 L648.10,448.40 L649.50,451.60 L650.80,449.60 L651.80,451.60 L653.30,451.80 L654.50,437.80 L655.50,452.30 L657.80,452.90" stroke="#d62728" stroke-width="2.5" stroke-linecap="square"/>
<line x1="120.7" y1="453.4" x2="657.8" y2="453.4" stroke="#000" stroke-width="2.48" stroke-dasharray="15.9 3.97 2.48 3.97"/>
</g>
<g stroke="#000" stroke-width="1.33" fill="none">
<rect x="93.8" y="32.45" width="590.3" height="440.75"/>
<line x1="119.80" y1="473" x2="119.80" y2="479.2" /><line x1="227.34" y1="473" x2="227.34" y2="479.2" /><line x1="334.88" y1="473" x2="334.88" y2="479.2" /><line x1="442.42" y1="473" x2="442.42" y2="479.2" /><line x1="549.96" y1="473" x2="549.96" y2="479.2" /><line x1="657.50" y1="473" x2="657.50" y2="479.2" /><line x1="88" y1="39.40" x2="94" y2="39.40" /><line x1="88" y1="95.10" x2="94" y2="95.10" /><line x1="88" y1="150.80" x2="94" y2="150.80" /><line x1="88" y1="206.50" x2="94" y2="206.50" /><line x1="88" y1="262.20" x2="94" y2="262.20" /><line x1="88" y1="317.90" x2="94" y2="317.90" /><line x1="88" y1="373.60" x2="94" y2="373.60" /><line x1="88" y1="429.30" x2="94" y2="429.30" /></g>
<rect x="376.6" y="45.1" width="295.6" height="110.7" rx="4.2" fill="#fff" fill-opacity="0.8" stroke="#cccccc" stroke-width="1.33"/>
<line x1="386.1" y1="63.5" x2="433.5" y2="63.5" stroke="#1f77b4" stroke-width="3.32" stroke-dasharray="3.32 5.48"/>
<line x1="386.1" y1="98.5" x2="433.5" y2="98.5" stroke="#2ca02c" stroke-width="3.32" stroke-dasharray="12.3 5.3"/>
<line x1="386.1" y1="133.6" x2="433.5" y2="133.6" stroke="#d62728" stroke-width="2.5" stroke-linecap="square"/>
<text x="452.46" y="72.00" font-size="25.37" textLength="55.13" lengthAdjust="spacingAndGlyphs">QITE</text>
<text x="452.54" y="107.05" font-size="25.16" textLength="211.30" lengthAdjust="spacingAndGlyphs">Randomized QITE</text>
<text x="452.57" y="142.10" font-size="25.16" textLength="191.77" lengthAdjust="spacingAndGlyphs">RL-steered QITE</text>
<text x="50.85" y="47.15" font-size="21.25" textLength="31.02" lengthAdjust="spacingAndGlyphs">0.0</text>
<rect x="35.70" y="95.71" width="12.56" height="1.71" fill="#000"/><text x="50.86" y="102.85" font-size="21.25" textLength="30.72" lengthAdjust="spacingAndGlyphs">0.5</text>
<rect x="35.70" y="151.41" width="12.56" height="1.71" fill="#000"/><text x="50.98" y="158.55" font-size="21.25" textLength="30.89" lengthAdjust="spacingAndGlyphs">1.0</text>
<rect x="35.70" y="207.11" width="12.56" height="1.71" fill="#000"/><text x="50.99" y="214.25" font-size="21.27" textLength="30.57" lengthAdjust="spacingAndGlyphs">1.5</text>
<rect x="35.70" y="262.81" width="12.56" height="1.71" fill="#000"/><text x="50.82" y="269.95" font-size="21.25" textLength="31.05" lengthAdjust="spacingAndGlyphs">2.0</text>
<rect x="35.70" y="318.51" width="12.56" height="1.71" fill="#000"/><text x="50.84" y="325.65" font-size="21.25" textLength="30.74" lengthAdjust="spacingAndGlyphs">2.5</text>
<rect x="35.70" y="374.21" width="12.56" height="1.71" fill="#000"/><text x="51.05" y="381.35" font-size="21.25" textLength="30.81" lengthAdjust="spacingAndGlyphs">3.0</text>
<rect x="35.70" y="429.91" width="12.56" height="1.71" fill="#000"/><text x="51.06" y="437.05" font-size="21.25" textLength="30.50" lengthAdjust="spacingAndGlyphs">3.5</text>
<text x="113.87" y="500.10" font-size="21.25" textLength="11.76" lengthAdjust="spacingAndGlyphs">0</text>
<text x="221.65" y="500.10" font-size="21.27" textLength="11.18" lengthAdjust="spacingAndGlyphs">1</text>
<text x="328.98" y="500.10" font-size="21.25" textLength="11.30" lengthAdjust="spacingAndGlyphs">2</text>
<text x="436.72" y="500.10" font-size="21.25" textLength="11.30" lengthAdjust="spacingAndGlyphs">3</text>
<text x="544.15" y="500.10" font-size="21.27" textLength="11.73" lengthAdjust="spacingAndGlyphs">4</text>
<text x="651.81" y="500.10" font-size="21.27" textLength="11.18" lengthAdjust="spacingAndGlyphs">5</text>
<text x="94.20" y="22.00" font-size="30.00" textLength="40.83" lengthAdjust="spacingAndGlyphs">(a)</text>
<text x="379.78" y="532.90" font-size="30.60" textLength="16.71" lengthAdjust="spacingAndGlyphs" font-style="italic">β</text>
<text x="-0.09" y="0.00" font-size="30.68" textLength="18.14" lengthAdjust="spacingAndGlyphs" font-style="italic" transform="translate(20.6,261.5) rotate(-90)">E</text>

<g fill="none" stroke-linejoin="round">
<path d="M120.10,969.52 C120.35,969.30 121.10,968.63 121.60,968.16 C122.10,967.69 122.60,967.21 123.10,966.71 C123.60,966.21 124.10,965.70 124.60,965.18 C125.10,964.66 125.60,964.13 126.10,963.58 C126.60,963.04 127.10,962.48 127.60,961.92 C128.10,961.36 128.60,960.78 129.10,960.20 C129.60,959.61 130.10,959.02 130.60,958.42 C131.10,957.82 131.60,957.20 132.10,956.59 C132.60,955.97 133.10,955.35 133.60,954.72 C134.10,954.09 134.60,953.45 135.10,952.81 C135.60,952.17 136.10,951.52 136.60,950.87 C137.10,950.22 137.60,949.56 138.11,948.90 C138.61,948.24 139.11,947.58 139.61,946.92 C140.11,946.25 140.61,945.59 141.11,944.92 C141.61,944.25 142.11,943.58 142.61,942.91 C143.11,942.24 143.61,941.57 144.11,940.90 C144.61,940.23 145.11,939.56 145.61,938.89 C146.11,938.22 146.61,937.55 147.11,936.89 C147.61,936.23 148.11,935.57 148.61,934.91 C149.11,934.25 149.61,933.60 150.11,932.95 C150.61,932.30 151.11,931.66 151.61,931.02 C152.11,930.39 152.61,929.76 153.11,929.13 C153.61,928.51 154.11,927.89 154.61,927.29 C155.11,926.68 155.61,926.08 156.11,925.49 C156.61,924.90 157.11,924.32 157.61,923.75 C158.11,923.18 158.61,922.62 159.11,922.07 C159.61,921.52 160.11,920.98 160.61,920.46 C161.11,919.94 161.61,919.43 162.11,918.93 C162.61,918.43 163.11,917.95 163.61,917.48 C164.11,917.01 164.61,916.56 165.11,916.12 C165.61,915.68 166.11,915.26 166.61,914.85 C167.11,914.44 167.61,914.05 168.11,913.66 C168.61,913.28 169.11,912.91 169.61,912.55 C170.11,912.19 170.61,911.84 171.11,911.50 C171.61,911.15 172.11,910.82 172.61,910.50 C173.12,910.17 173.62,909.86 174.12,909.54 C174.62,909.23 175.12,908.93 175.62,908.63 C176.12,908.32 176.62,908.03 177.12,907.73 C177.62,907.44 178.12,907.15 178.62,906.86 C179.12,906.57 179.62,906.28 180.12,905.99 C180.62,905.70 181.12,905.41 181.62,905.12 C182.12,904.83 182.62,904.54 183.12,904.24 C183.62,903.95 184.12,903.65 184.62,903.35 C185.12,903.05 185.62,902.75 186.12,902.45 C186.62,902.14 187.12,901.84 187.62,901.53 C188.12,901.23 188.62,900.92 189.12,900.62 C189.62,900.31 190.12,900.00 190.62,899.69 C191.12,899.38 191.62,899.07 192.12,898.76 C192.62,898.45 193.12,898.14 193.62,897.83 C194.12,897.52 194.62,897.21 195.12,896.90 C195.62,896.60 196.12,896.29 196.62,895.98 C197.12,895.67 197.62,895.36 198.12,895.05 C198.62,894.75 199.12,894.44 199.62,894.13 C200.12,893.83 200.62,893.52 201.12,893.22 C201.62,892.92 202.12,892.62 202.62,892.32 C203.12,892.02 203.62,891.72 204.12,891.43 C204.62,891.13 205.12,890.84 205.62,890.55 C206.12,890.26 206.62,889.97 207.12,889.68 C207.62,889.39 208.12,889.11 208.63,888.83 C209.13,888.54 209.63,888.26 210.13,887.98 C210.63,887.71 211.13,887.43 211.63,887.15 C212.13,886.88 212.63,886.61 213.13,886.34 C213.63,886.07 214.13,885.80 214.63,885.53 C215.13,885.26 215.63,885.00 216.13,884.73 C216.63,884.47 217.13,884.21 217.63,883.95 C218.13,883.69 218.63,883.43 219.13,883.18 C219.63,882.92 220.13,882.66 220.63,882.41 C221.13,882.16 221.63,881.91 222.13,881.66 C222.63,881.41 223.13,881.16 223.63,880.91 C224.13,880.67 224.63,880.42 225.13,880.18 C225.63,879.93 226.13,879.69 226.63,879.45 C227.13,879.21 227.63,878.97 228.13,878.73 C228.63,878.50 229.13,878.26 229.63,878.02 C230.13,877.79 230.63,877.56 231.13,877.32 C231.63,877.09 232.13,876.86 232.63,876.63 C233.13,876.40 233.63,876.17 234.13,875.94 C234.63,875.71 235.13,875.49 235.63,875.26 C236.13,875.04 236.63,874.81 237.13,874.59 C237.63,874.37 238.13,874.15 238.63,873.92 C239.13,873.70 239.63,873.48 240.13,873.26 C240.63,873.05 241.13,872.83 241.63,872.61 C242.13,872.39 242.63,872.18 243.13,871.96 C243.64,871.75 244.14,871.53 244.64,871.32 C245.14,871.10 245.64,870.89 246.14,870.68 C246.64,870.47 247.14,870.26 247.64,870.05 C248.14,869.83 248.64,869.62 249.14,869.42 C249.64,869.21 250.14,869.00 250.64,868.79 C251.14,868.58 251.64,868.37 252.14,868.17 C252.64,867.96 253.14,867.75 253.64,867.55 C254.14,867.34 254.64,867.14 255.14,866.93 C255.64,866.73 256.14,866.52 256.64,866.32 C257.14,866.12 257.64,865.91 258.14,865.71 C258.64,865.50 259.14,865.30 259.64,865.10 C260.14,864.90 260.64,864.69 261.14,864.49 C261.64,864.29 262.14,864.09 262.64,863.89 C263.14,863.69 263.64,863.48 264.14,863.28 C264.64,863.08 265.14,862.88 265.64,862.68 C266.14,862.48 266.64,862.28 267.14,862.08 C267.64,861.87 268.14,861.67 268.64,861.47 C269.14,861.27 269.64,861.07 270.14,860.87 C270.64,860.67 271.14,860.47 271.64,860.27 C272.14,860.07 272.64,859.86 273.14,859.66 C273.64,859.46 274.14,859.26 274.64,859.06 C275.14,858.86 275.64,858.65 276.14,858.45 C276.64,858.25 277.14,858.05 277.64,857.84 C278.14,857.64 278.64,857.44 279.15,857.23 C279.65,857.03 280.15,856.82 280.65,856.62 C281.15,856.42 281.65,856.21 282.15,856.00 C282.65,855.80 283.15,855.59 283.65,855.39 C284.15,855.18 284.65,854.97 285.15,854.77 C285.65,854.56 286.15,854.35 286.65,854.14 C287.15,853.93 287.65,853.72 288.15,853.51 C288.65,853.30 289.15,853.09 289.65,852.88 C290.15,852.67 290.65,852.46 291.15,852.24 C291.65,852.03 292.15,851.82 292.65,851.60 C293.15,851.39 293.65,851.17 294.15,850.95 C294.65,850.74 295.15,850.52 295.65,850.30 C296.15,850.08 296.65,849.86 297.15,849.64 C297.65,849.42 298.15,849.20 298.65,848.98 C299.15,848.76 299.65,848.54 300.15,848.31 C300.65,848.09 301.15,847.87 301.65,847.64 C302.15,847.42 302.65,847.19 303.15,846.96 C303.65,846.74 304.15,846.51 304.65,846.28 C305.15,846.05 305.65,845.82 306.15,845.59 C306.65,845.36 307.15,845.13 307.65,844.90 C308.15,844.66 308.65,844.43 309.15,844.20 C309.65,843.96 310.15,843.73 310.65,843.49 C311.15,843.25 311.65,843.02 312.15,842.78 C312.65,842.54 313.15,842.30 313.65,842.06 C314.16,841.82 314.66,841.58 315.16,841.34 C315.66,841.10 316.16,840.85 316.66,840.61 C317.16,840.37 317.66,840.12 318.16,839.88 C318.66,839.63 319.16,839.39 319.66,839.14 C320.16,838.89 320.66,838.64 321.16,838.39 C321.66,838.14 322.16,837.89 322.66,837.64 C323.16,837.39 323.66,837.14 324.16,836.88 C324.66,836.63 325.16,836.38 325.66,836.12 C326.16,835.86 326.66,835.61 327.16,835.35 C327.66,835.09 328.16,834.83 328.66,834.57 C329.16,834.32 329.66,834.05 330.16,833.79 C330.66,833.53 331.16,833.27 331.66,833.01 C332.16,832.74 332.66,832.48 333.16,832.21 C333.66,831.95 334.16,831.68 334.66,831.41 C335.16,831.14 335.66,830.87 336.16,830.60 C336.66,830.33 337.16,830.06 337.66,829.79 C338.16,829.52 338.66,829.25 339.16,828.97 C339.66,828.70 340.16,828.42 340.66,828.15 C341.16,827.87 341.66,827.59 342.16,827.31 C342.66,827.04 343.16,826.76 343.66,826.48 C344.16,826.20 344.66,825.91 345.16,825.63 C345.66,825.35 346.16,825.06 346.66,824.78 C347.16,824.49 347.66,824.21 348.16,823.92 C348.66,823.63 349.16,823.35 349.67,823.06 C350.17,822.77 350.67,822.48 351.17,822.18 C351.67,821.89 352.17,821.60 352.67,821.31 C353.17,821.01 353.67,820.72 354.17,820.42 C354.67,820.12 355.17,819.83 355.67,819.53 C356.17,819.23 356.67,818.93 357.17,818.63 C357.67,818.33 358.17,818.02 358.67,817.72 C359.17,817.42 359.67,817.11 360.17,816.81 C360.67,816.50 361.17,816.20 361.67,815.89 C362.17,815.58 362.67,815.27 363.17,814.96 C363.67,814.65 364.17,814.34 364.67,814.03 C365.17,813.71 365.67,813.40 366.17,813.08 C366.67,812.77 367.17,812.45 367.67,812.14 C368.17,811.82 368.67,811.50 369.17,811.18 C369.67,810.86 370.17,810.54 370.67,810.22 C371.17,809.89 371.67,809.57 372.17,809.25 C372.67,808.92 373.17,808.59 373.67,808.27 C374.17,807.94 374.67,807.61 375.17,807.28 C375.67,806.95 376.17,806.62 376.67,806.29 C377.17,805.96 377.67,805.62 378.17,805.29 C378.67,804.95 379.17,804.62 379.67,804.28 C380.17,803.94 380.67,803.60 381.17,803.26 C381.67,802.92 382.17,802.58 382.67,802.24 C383.17,801.90 383.67,801.55 384.17,801.21 C384.68,800.86 385.18,800.52 385.68,800.17 C386.18,799.82 386.68,799.47 387.18,799.12 C387.68,798.77 388.18,798.42 388.68,798.07 C389.18,797.71 389.68,797.36 390.18,797.00 C390.68,796.65 391.18,796.29 391.68,795.93 C392.18,795.58 392.68,795.22 393.18,794.86 C393.68,794.49 394.18,794.13 394.68,793.77 C395.18,793.41 395.68,793.04 396.18,792.68 C396.68,792.31 397.18,791.94 397.68,791.57 C398.18,791.21 398.68,790.84 399.18,790.46 C399.68,790.09 400.18,789.72 400.68,789.35 C401.18,788.97 401.68,788.60 402.18,788.22 C402.68,787.85 403.18,787.47 403.68,787.09 C404.18,786.72 404.68,786.34 405.18,785.96 C405.68,785.57 406.18,785.19 406.68,784.81 C407.18,784.43 407.68,784.04 408.18,783.66 C408.68,783.27 409.18,782.89 409.68,782.50 C410.18,782.11 410.68,781.72 411.18,781.34 C411.68,780.95 412.18,780.56 412.68,780.16 C413.18,779.77 413.68,779.38 414.18,778.99 C414.68,778.59 415.18,778.20 415.68,777.80 C416.18,777.41 416.68,777.01 417.18,776.61 C417.68,776.21 418.18,775.81 418.68,775.42 C419.18,775.02 419.68,774.61 420.19,774.21 C420.69,773.81 421.19,773.41 421.69,773.01 C422.19,772.60 422.69,772.20 423.19,771.79 C423.69,771.39 424.19,770.98 424.69,770.57 C425.19,770.16 425.69,769.76 426.19,769.35 C426.69,768.94 427.19,768.53 427.69,768.12 C428.19,767.71 428.69,767.29 429.19,766.88 C429.69,766.47 430.19,766.06 430.69,765.64 C431.19,765.23 431.69,764.81 432.19,764.40 C432.69,763.98 433.19,763.56 433.69,763.15 C434.19,762.73 434.69,762.31 435.19,761.89 C435.69,761.47 436.19,761.05 436.69,760.63 C437.19,760.21 437.69,759.79 438.19,759.37 C438.69,758.94 439.19,758.52 439.69,758.10 C440.19,757.67 440.69,757.25 441.19,756.82 C441.69,756.40 442.19,755.97 442.69,755.55 C443.19,755.12 443.69,754.69 444.19,754.26 C444.69,753.84 445.19,753.41 445.69,752.98 C446.19,752.55 446.69,752.12 447.19,751.69 C447.69,751.26 448.19,750.83 448.69,750.40 C449.19,749.96 449.69,749.53 450.19,749.10 C450.69,748.67 451.19,748.23 451.69,747.80 C452.19,747.36 452.69,746.93 453.19,746.49 C453.69,746.06 454.19,745.62 454.69,745.19 C455.20,744.75 455.70,744.31 456.20,743.88 C456.70,743.44 457.20,743.00 457.70,742.56 C458.20,742.13 458.70,741.69 459.20,741.25 C459.70,740.81 460.20,740.37 460.70,739.93 C461.20,739.49 461.70,739.05 462.20,738.61 C462.70,738.16 463.20,737.72 463.70,737.28 C464.20,736.84 464.70,736.40 465.20,735.95 C465.70,735.51 466.20,735.07 466.70,734.62 C467.20,734.18 467.70,733.74 468.20,733.29 C468.70,732.85 469.20,732.40 469.70,731.96 C470.20,731.51 470.70,731.07 471.20,730.62 C471.70,730.17 472.45,729.50 472.70,729.28 L473.80,728.40 L474.50,736.10 L475.40,727.60 L475.40,727.60 C476.67,726.52 480.58,723.00 483.00,721.10 C485.42,719.20 487.52,717.85 489.90,716.20 C492.28,714.55 494.77,712.72 497.30,711.20 C499.83,709.68 502.50,708.42 505.10,707.10 C507.70,705.78 510.27,704.47 512.90,703.30 C515.53,702.13 518.30,701.07 520.90,700.10 C523.50,699.13 525.88,698.43 528.50,697.50 C531.12,696.57 534.00,695.68 536.60,694.50 C539.20,693.32 541.82,692.12 544.10,690.40 C546.38,688.68 548.67,686.60 550.30,684.20 C551.93,681.80 552.87,678.67 553.90,676.00 C554.93,673.33 555.72,670.95 556.50,668.20 C557.28,665.45 557.95,662.42 558.60,659.50 C559.25,656.58 559.90,653.62 560.40,650.70 C560.90,647.78 561.13,644.87 561.60,642.00 C562.07,639.13 562.63,636.25 563.20,633.50 C563.77,630.75 564.37,626.95 565.00,625.50 C565.63,624.05 566.30,624.55 567.00,624.80 C567.70,625.05 568.63,625.17 569.20,627.00 C569.77,628.83 570.03,632.88 570.40,635.80 C570.77,638.72 571.10,641.58 571.40,644.50 C571.70,647.42 572.02,650.37 572.20,653.30 C572.38,656.23 572.37,659.18 572.50,662.10 C572.63,665.02 572.88,667.80 573.00,670.80 C573.12,673.80 573.18,677.17 573.20,680.10 C573.22,683.03 573.10,685.57 573.10,688.40 C573.10,691.23 573.13,694.18 573.20,697.10 C573.27,700.02 573.40,702.98 573.50,705.90 C573.60,708.82 573.60,701.42 573.80,714.60 C574.00,727.78 574.55,773.27 574.70,785.00 L577.80,977.60 L585.20,981.80 L592.60,982.90 L601.00,978.70 L605.20,981.80 L613.60,981.80 L614.40,916.50 L615.00,981.90 L656.10,982.40" stroke="#1f77b4" stroke-width="3.32" stroke-dasharray="3.32 5.48"/>
<path d="M120.10,969.44 C120.35,969.23 121.10,968.63 121.60,968.20 C122.11,967.77 122.61,967.31 123.11,966.84 C123.61,966.37 124.11,965.88 124.61,965.37 C125.11,964.86 125.62,964.33 126.12,963.79 C126.62,963.25 127.12,962.70 127.62,962.13 C128.12,961.56 128.62,960.97 129.13,960.38 C129.63,959.78 130.13,959.17 130.63,958.55 C131.13,957.93 131.63,957.30 132.14,956.67 C132.64,956.03 133.14,955.38 133.64,954.73 C134.14,954.07 134.64,953.41 135.14,952.74 C135.65,952.07 136.15,951.40 136.65,950.72 C137.15,950.05 137.65,949.36 138.15,948.68 C138.65,948.00 139.16,947.31 139.66,946.62 C140.16,945.94 140.66,945.25 141.16,944.56 C141.66,943.88 142.16,943.19 142.67,942.51 C143.17,941.83 143.67,941.14 144.17,940.47 C144.67,939.79 145.17,939.12 145.67,938.45 C146.18,937.79 146.68,937.13 147.18,936.47 C147.68,935.82 148.18,935.17 148.68,934.54 C149.18,933.90 149.69,933.27 150.19,932.66 C150.69,932.04 151.19,931.44 151.69,930.84 C152.19,930.25 152.70,929.67 153.20,929.10 C153.70,928.53 154.20,927.97 154.70,927.42 C155.20,926.88 155.70,926.35 156.21,925.83 C156.71,925.31 157.21,924.80 157.71,924.31 C158.21,923.82 158.71,923.34 159.21,922.88 C159.72,922.42 160.22,921.97 160.72,921.54 C161.22,921.11 161.72,920.69 162.22,920.29 C162.72,919.88 163.23,919.49 163.73,919.12 C164.23,918.74 164.73,918.37 165.23,918.02 C165.73,917.66 166.23,917.32 166.74,916.98 C167.24,916.64 167.74,916.31 168.24,915.99 C168.74,915.67 169.24,915.35 169.74,915.04 C170.25,914.73 170.75,914.42 171.25,914.12 C171.75,913.81 172.25,913.51 172.75,913.21 C173.26,912.91 173.76,912.61 174.26,912.31 C174.76,912.01 175.26,911.71 175.76,911.41 C176.26,911.11 176.77,910.81 177.27,910.51 C177.77,910.21 178.27,909.91 178.77,909.61 C179.27,909.31 179.77,909.01 180.28,908.71 C180.78,908.42 181.28,908.12 181.78,907.83 C182.28,907.53 182.78,907.23 183.28,906.94 C183.79,906.65 184.29,906.35 184.79,906.06 C185.29,905.77 185.79,905.48 186.29,905.19 C186.79,904.90 187.30,904.62 187.80,904.33 C188.30,904.04 188.80,903.76 189.30,903.48 C189.80,903.19 190.30,902.91 190.81,902.63 C191.31,902.35 191.81,902.08 192.31,901.80 C192.81,901.52 193.31,901.25 193.82,900.98 C194.32,900.71 194.82,900.44 195.32,900.17 C195.82,899.90 196.32,899.64 196.82,899.38 C197.33,899.11 197.83,898.85 198.33,898.60 C198.83,898.34 199.33,898.08 199.83,897.83 C200.33,897.58 200.84,897.33 201.34,897.08 C201.84,896.84 202.34,896.59 202.84,896.35 C203.34,896.11 203.84,895.87 204.35,895.64 C204.85,895.40 205.35,895.17 205.85,894.95 C206.35,894.72 206.85,894.49 207.35,894.27 C207.86,894.05 208.36,893.83 208.86,893.62 C209.36,893.41 209.86,893.20 210.36,892.99 C210.86,892.78 211.37,892.58 211.87,892.38 C212.37,892.18 212.87,891.99 213.37,891.79 C213.87,891.60 214.38,891.41 214.88,891.23 C215.38,891.04 215.88,890.86 216.38,890.68 C216.88,890.50 217.38,890.33 217.89,890.15 C218.39,889.98 218.89,889.81 219.39,889.65 C219.89,889.48 220.39,889.32 220.89,889.16 C221.40,889.00 221.90,888.85 222.40,888.70 C222.90,888.55 223.40,888.40 223.90,888.25 C224.40,888.11 224.91,887.97 225.41,887.83 C225.91,887.69 226.41,887.56 226.91,887.42 C227.41,887.29 227.91,887.16 228.42,887.04 C228.92,886.91 229.42,886.79 229.92,886.67 C230.42,886.55 230.92,886.44 231.42,886.33 C231.93,886.21 232.43,886.11 232.93,886.00 C233.43,885.89 233.93,885.79 234.43,885.69 C234.94,885.59 235.44,885.50 235.94,885.40 C236.44,885.31 236.94,885.22 237.44,885.13 C237.94,885.04 238.45,884.96 238.95,884.88 C239.45,884.80 239.95,884.72 240.45,884.65 C240.95,884.57 241.45,884.50 241.96,884.43 C242.46,884.36 242.96,884.30 243.46,884.23 C243.96,884.17 244.46,884.11 244.96,884.05 C245.47,884.00 245.97,883.94 246.47,883.89 C246.97,883.84 247.47,883.79 247.97,883.75 C248.47,883.70 248.98,883.66 249.48,883.62 C249.98,883.58 250.48,883.55 250.98,883.51 C251.48,883.48 251.98,883.45 252.49,883.42 C252.99,883.39 253.49,883.37 253.99,883.35 C254.49,883.32 254.99,883.30 255.49,883.29 C256.00,883.27 256.50,883.26 257.00,883.24 C257.50,883.23 258.00,883.22 258.50,883.22 C259.01,883.21 259.51,883.21 260.01,883.20 C260.51,883.20 261.01,883.20 261.51,883.21 C262.01,883.21 262.52,883.22 263.02,883.22 C263.52,883.23 264.02,883.24 264.52,883.25 C265.02,883.27 265.52,883.28 266.03,883.30 C266.53,883.32 267.03,883.33 267.53,883.36 C268.03,883.38 268.53,883.40 269.03,883.43 C269.54,883.45 270.04,883.48 270.54,883.51 C271.04,883.54 271.54,883.57 272.04,883.61 C272.54,883.64 273.05,883.68 273.55,883.71 C274.05,883.75 274.55,883.79 275.05,883.83 C275.55,883.87 276.05,883.92 276.56,883.96 C277.06,884.01 277.56,884.06 278.06,884.10 C278.56,884.15 279.06,884.20 279.57,884.26 C280.07,884.31 280.57,884.36 281.07,884.42 C281.57,884.47 282.07,884.53 282.57,884.59 C283.08,884.65 283.58,884.71 284.08,884.77 C284.58,884.83 285.08,884.90 285.58,884.96 C286.08,885.03 286.59,885.09 287.09,885.16 C287.59,885.23 288.09,885.30 288.59,885.37 C289.09,885.44 289.59,885.51 290.10,885.58 C290.60,885.65 291.10,885.73 291.60,885.80 C292.10,885.88 292.60,885.96 293.10,886.03 C293.61,886.11 294.11,886.19 294.61,886.27 C295.11,886.35 295.61,886.43 296.11,886.51 C296.61,886.60 297.12,886.68 297.62,886.76 C298.12,886.85 298.62,886.93 299.12,887.02 C299.62,887.11 300.13,887.19 300.63,887.28 C301.13,887.37 301.63,887.46 302.13,887.55 C302.63,887.64 303.13,887.73 303.64,887.82 C304.14,887.91 304.64,888.00 305.14,888.09 C305.64,888.18 306.14,888.28 306.64,888.37 C307.15,888.46 307.65,888.56 308.15,888.65 C308.65,888.75 309.15,888.84 309.65,888.94 C310.15,889.04 310.66,889.13 311.16,889.23 C311.66,889.32 312.16,889.42 312.66,889.52 C313.16,889.62 313.66,889.72 314.17,889.81 C314.67,889.91 315.17,890.01 315.67,890.11 C316.17,890.21 316.67,890.31 317.17,890.41 C317.68,890.51 318.18,890.60 318.68,890.70 C319.18,890.80 319.68,890.90 320.18,891.00 C320.69,891.10 321.19,891.20 321.69,891.30 C322.19,891.40 322.69,891.50 323.19,891.60 C323.69,891.70 324.20,891.80 324.70,891.90 C325.20,892.00 325.70,892.10 326.20,892.20 C326.70,892.30 327.20,892.40 327.71,892.50 C328.21,892.60 328.71,892.69 329.21,892.79 C329.71,892.89 330.21,892.99 330.71,893.09 C331.22,893.19 331.72,893.28 332.22,893.38 C332.72,893.48 333.22,893.57 333.72,893.67 C334.22,893.77 334.73,893.86 335.23,893.96 C335.73,894.05 336.23,894.15 336.73,894.24 C337.23,894.33 337.73,894.43 338.24,894.52 C338.74,894.61 339.24,894.71 339.74,894.80 C340.24,894.89 340.74,894.98 341.25,895.07 C341.75,895.16 342.25,895.25 342.75,895.34 C343.25,895.43 343.75,895.52 344.25,895.61 C344.76,895.69 345.26,895.78 345.76,895.87 C346.26,895.95 346.76,896.04 347.26,896.12 C347.76,896.21 348.27,896.29 348.77,896.38 C349.27,896.46 349.77,896.54 350.27,896.63 C350.77,896.71 351.27,896.79 351.78,896.87 C352.28,896.95 352.78,897.03 353.28,897.11 C353.78,897.19 354.28,897.27 354.78,897.35 C355.29,897.43 355.79,897.50 356.29,897.58 C356.79,897.66 357.29,897.73 357.79,897.81 C358.29,897.88 358.80,897.96 359.30,898.03 C359.80,898.10 360.30,898.18 360.80,898.25 C361.30,898.32 361.81,898.39 362.31,898.46 C362.81,898.53 363.31,898.60 363.81,898.67 C364.31,898.74 364.81,898.80 365.32,898.87 C365.82,898.94 366.32,899.00 366.82,899.07 C367.32,899.13 367.82,899.20 368.32,899.26 C368.83,899.33 369.33,899.39 369.83,899.45 C370.33,899.51 370.83,899.57 371.33,899.63 C371.83,899.69 372.34,899.75 372.84,899.81 C373.34,899.87 373.84,899.92 374.34,899.98 C374.84,900.04 375.34,900.09 375.85,900.15 C376.35,900.20 376.85,900.25 377.35,900.31 C377.85,900.36 378.35,900.41 378.85,900.46 C379.36,900.51 379.86,900.56 380.36,900.61 C380.86,900.66 381.36,900.71 381.86,900.75 C382.37,900.80 382.87,900.84 383.37,900.89 C383.87,900.93 384.37,900.98 384.87,901.02 C385.37,901.06 385.88,901.10 386.38,901.14 C386.88,901.18 387.38,901.22 387.88,901.26 C388.38,901.30 388.88,901.34 389.39,901.38 C389.89,901.41 390.39,901.45 390.89,901.48 C391.39,901.52 391.89,901.55 392.39,901.58 C392.90,901.61 393.40,901.64 393.90,901.67 C394.40,901.70 394.90,901.73 395.40,901.76 C395.90,901.79 396.41,901.81 396.91,901.84 C397.41,901.87 397.91,901.89 398.41,901.91 C398.91,901.94 399.41,901.96 399.92,901.98 C400.42,902.00 400.92,902.02 401.42,902.04 C401.92,902.06 402.42,902.07 402.93,902.09 C403.43,902.11 403.93,902.12 404.43,902.14 C404.93,902.15 405.43,902.16 405.93,902.17 C406.44,902.19 406.94,902.20 407.44,902.20 C407.94,902.21 408.44,902.22 408.94,902.23 C409.44,902.23 409.95,902.24 410.45,902.24 C410.95,902.25 411.45,902.25 411.95,902.25 C412.45,902.25 412.95,902.25 413.46,902.25 C413.96,902.25 414.46,902.25 414.96,902.25 C415.46,902.24 415.96,902.24 416.46,902.23 C416.97,902.23 417.47,902.22 417.97,902.21 C418.47,902.20 418.97,902.19 419.47,902.18 C419.97,902.17 420.48,902.16 420.98,902.14 C421.48,902.13 421.98,902.11 422.48,902.10 C422.98,902.08 423.49,902.06 423.99,902.04 C424.49,902.02 424.99,902.00 425.49,901.98 C425.99,901.96 426.49,901.94 427.00,901.91 C427.50,901.89 428.00,901.86 428.50,901.83 C429.00,901.80 429.50,901.77 430.00,901.74 C430.51,901.71 431.01,901.68 431.51,901.65 C432.01,901.62 432.51,901.58 433.01,901.54 C433.51,901.51 434.02,901.47 434.52,901.43 C435.02,901.39 435.52,901.35 436.02,901.31 C436.52,901.27 437.02,901.22 437.53,901.18 C438.03,901.14 438.53,901.09 439.03,901.04 C439.53,900.99 440.03,900.95 440.53,900.89 C441.04,900.84 441.54,900.79 442.04,900.74 C442.54,900.69 443.04,900.63 443.54,900.58 C444.05,900.52 444.55,900.46 445.05,900.41 C445.55,900.35 446.05,900.29 446.55,900.23 C447.05,900.17 447.56,900.10 448.06,900.04 C448.56,899.98 449.06,899.91 449.56,899.84 C450.06,899.78 450.56,899.71 451.07,899.64 C451.57,899.57 452.07,899.50 452.57,899.43 C453.07,899.36 453.57,899.29 454.07,899.21 C454.58,899.14 455.08,899.06 455.58,898.99 C456.08,898.91 456.58,898.83 457.08,898.75 C457.58,898.67 458.09,898.59 458.59,898.51 C459.09,898.43 459.59,898.35 460.09,898.26 C460.59,898.18 461.09,898.09 461.60,898.01 C462.10,897.92 462.60,897.83 463.10,897.74 C463.60,897.66 464.10,897.57 464.61,897.47 C465.11,897.38 465.61,897.29 466.11,897.20 C466.61,897.10 467.11,897.01 467.61,896.91 C468.12,896.82 468.62,896.72 469.12,896.62 C469.62,896.52 470.12,896.42 470.62,896.32 C471.12,896.22 471.63,896.12 472.13,896.02 C472.63,895.91 473.13,895.81 473.63,895.71 C474.13,895.60 474.63,895.49 475.14,895.39 C475.64,895.28 476.14,895.17 476.64,895.06 C477.14,894.95 477.64,894.84 478.14,894.73 C478.65,894.62 479.15,894.50 479.65,894.39 C480.15,894.28 480.65,894.16 481.15,894.05 C481.65,893.93 482.16,893.81 482.66,893.69 C483.16,893.58 483.66,893.46 484.16,893.34 C484.66,893.22 485.16,893.09 485.67,892.97 C486.17,892.85 486.67,892.73 487.17,892.60 C487.67,892.48 488.17,892.35 488.68,892.23 C489.18,892.10 489.68,891.97 490.18,891.84 C490.68,891.71 491.18,891.59 491.68,891.46 C492.19,891.32 492.69,891.19 493.19,891.06 C493.69,890.93 494.19,890.80 494.69,890.66 C495.19,890.53 495.70,890.39 496.20,890.25 C496.70,890.12 497.20,889.98 497.70,889.84 C498.20,889.71 498.70,889.57 499.21,889.43 C499.71,889.29 500.21,889.15 500.71,889.00 C501.21,888.86 501.71,888.72 502.21,888.58 C502.72,888.43 503.22,888.29 503.72,888.14 C504.22,888.00 504.72,887.85 505.22,887.70 C505.72,887.56 506.23,887.41 506.73,887.26 C507.23,887.11 507.73,886.96 508.23,886.81 C508.73,886.66 509.24,886.51 509.74,886.35 C510.24,886.20 510.74,886.05 511.24,885.89 C511.74,885.74 512.24,885.59 512.75,885.43 C513.25,885.27 513.75,885.12 514.25,884.96 C514.75,884.80 515.25,884.64 515.75,884.49 C516.26,884.33 516.76,884.17 517.26,884.01 C517.76,883.85 518.26,883.68 518.76,883.52 C519.26,883.36 519.77,883.20 520.27,883.03 C520.77,882.87 521.27,882.71 521.77,882.54 C522.27,882.37 522.77,882.21 523.28,882.04 C523.78,881.88 524.28,881.71 524.78,881.54 C525.28,881.37 525.78,881.20 526.28,881.03 C526.79,880.86 527.29,880.69 527.79,880.52 C528.29,880.35 528.79,880.18 529.29,880.01 C529.80,879.83 530.30,879.66 530.80,879.49 C531.30,879.31 531.80,879.14 532.30,878.96 C532.80,878.79 533.31,878.61 533.81,878.44 C534.31,878.26 534.81,878.08 535.31,877.90 C535.81,877.73 536.31,877.55 536.82,877.37 C537.32,877.19 537.82,877.01 538.32,876.83 C538.82,876.65 539.32,876.47 539.82,876.29 C540.33,876.10 540.83,875.92 541.33,875.74 C541.83,875.56 542.33,875.37 542.83,875.19 C543.33,875.00 543.84,874.82 544.34,874.63 C544.84,874.45 545.34,874.26 545.84,874.08 C546.34,873.89 546.84,873.70 547.35,873.51 C547.85,873.33 548.35,873.14 548.85,872.95 C549.35,872.76 549.85,872.57 550.36,872.38 C550.86,872.19 551.36,872.00 551.86,871.81 C552.36,871.62 552.86,871.43 553.36,871.24 C553.87,871.05 554.37,870.85 554.87,870.66 C555.37,870.47 555.87,870.27 556.37,870.08 C556.87,869.88 557.38,869.69 557.88,869.49 C558.38,869.30 558.88,869.10 559.38,868.90 C559.88,868.70 560.38,868.50 560.89,868.30 C561.39,868.10 561.89,867.90 562.39,867.69 C562.89,867.49 563.39,867.28 563.89,867.07 C564.40,866.87 564.90,866.66 565.40,866.44 C565.90,866.23 566.40,866.02 566.90,865.80 C567.40,865.58 567.91,865.37 568.41,865.14 C568.91,864.92 569.41,864.70 569.91,864.47 C570.41,864.24 570.92,864.02 571.42,863.78 C571.92,863.55 572.42,863.31 572.92,863.08 C573.42,862.84 573.92,862.60 574.43,862.35 C574.93,862.11 575.43,861.86 575.93,861.60 C576.43,861.35 576.93,861.10 577.43,860.84 C577.94,860.58 578.44,860.31 578.94,860.05 C579.44,859.78 579.94,859.51 580.44,859.23 C580.94,858.95 581.45,858.67 581.95,858.39 C582.45,858.10 582.95,857.82 583.45,857.52 C583.95,857.23 584.45,856.93 584.96,856.63 C585.46,856.32 585.96,856.01 586.46,855.70 C586.96,855.39 587.46,855.07 587.96,854.75 C588.47,854.42 588.97,854.09 589.47,853.76 C589.97,853.42 590.47,853.08 590.97,852.74 C591.48,852.39 591.98,852.04 592.48,851.68 C592.98,851.32 593.48,850.96 593.98,850.59 C594.48,850.22 594.99,849.84 595.49,849.46 C595.99,849.08 596.49,848.69 596.99,848.29 C597.49,847.90 597.99,847.50 598.50,847.09 C599.00,846.68 598.00,847.80 600.00,845.84 C602.00,843.88 607.22,838.81 610.50,835.30 C613.78,831.79 617.42,828.07 619.70,824.80 C621.98,821.53 622.90,820.07 624.20,815.70 C625.50,811.33 626.62,804.72 627.50,798.60 C628.38,792.48 628.83,785.55 629.50,779.00 C630.17,772.45 630.95,765.53 631.50,759.30 C632.05,753.07 632.58,744.55 632.80,741.60 L634.70,759.30 L635.40,798.60 L636.00,857.60 L637.80,979.70 L639.30,930.00 L640.60,903.00 L641.60,912.00 L643.20,935.00 L644.50,910.00 L646.00,962.00 L647.20,912.00 L648.60,968.00 L649.60,893.30 L650.60,945.00 L651.60,905.00 L652.60,970.00 L653.60,912.00 L654.60,958.00 L655.60,918.00 L656.60,972.00 L657.50,928.00 L657.20,962.00 L655.20,932.00 L653.20,966.00 L651.20,938.00 L649.30,972.00 L647.30,945.00 L645.80,922.00 L647.50,930.00 L650.00,915.00 L652.50,925.00 L655.00,945.00 L657.00,950.00" stroke="#2ca02c" stroke-width="3.32" stroke-dasharray="12.3 5.3"/>
<path d="M120.10,970.06 C120.35,969.79 121.10,968.99 121.60,968.44 C122.10,967.90 122.60,967.34 123.10,966.78 C123.60,966.22 124.10,965.65 124.61,965.07 C125.11,964.50 125.61,963.92 126.11,963.33 C126.61,962.74 127.11,962.14 127.61,961.54 C128.11,960.94 128.61,960.34 129.11,959.73 C129.61,959.12 130.11,958.50 130.61,957.88 C131.11,957.27 131.61,956.64 132.11,956.02 C132.61,955.39 133.11,954.76 133.62,954.13 C134.12,953.49 134.62,952.86 135.12,952.22 C135.62,951.58 136.12,950.94 136.62,950.30 C137.12,949.66 137.62,949.02 138.12,948.37 C138.62,947.73 139.12,947.08 139.62,946.44 C140.12,945.80 140.62,945.15 141.12,944.51 C141.62,943.86 142.13,943.22 142.63,942.57 C143.13,941.93 143.63,941.29 144.13,940.65 C144.63,940.01 145.13,939.37 145.63,938.74 C146.13,938.10 146.63,937.47 147.13,936.84 C147.63,936.21 148.13,935.58 148.63,934.96 C149.13,934.33 149.63,933.71 150.13,933.10 C150.63,932.48 151.14,931.87 151.64,931.27 C152.14,930.66 152.64,930.06 153.14,929.46 C153.64,928.87 154.14,928.28 154.64,927.70 C155.14,927.11 155.64,926.54 156.14,925.97 C156.64,925.40 157.14,924.83 157.64,924.28 C158.14,923.72 158.64,923.18 159.14,922.63 C159.65,922.09 160.15,921.56 160.65,921.03 C161.15,920.51 161.65,919.99 162.15,919.47 C162.65,918.96 163.15,918.45 163.65,917.95 C164.15,917.45 164.65,916.96 165.15,916.47 C165.65,915.98 166.15,915.50 166.65,915.02 C167.15,914.55 167.65,914.08 168.15,913.61 C168.66,913.14 169.16,912.68 169.66,912.23 C170.16,911.77 170.66,911.32 171.16,910.88 C171.66,910.43 172.16,909.99 172.66,909.55 C173.16,909.12 173.66,908.69 174.16,908.26 C174.66,907.83 175.16,907.41 175.66,906.99 C176.16,906.57 176.66,906.15 177.17,905.74 C177.67,905.33 178.17,904.92 178.67,904.51 C179.17,904.11 179.67,903.71 180.17,903.31 C180.67,902.91 181.17,902.51 181.67,902.12 C182.17,901.72 182.67,901.33 183.17,900.95 C183.67,900.56 184.17,900.17 184.67,899.79 C185.17,899.40 185.67,899.02 186.18,898.64 C186.68,898.26 187.18,897.88 187.68,897.51 C188.18,897.13 188.68,896.75 189.18,896.38 C189.68,896.00 190.18,895.63 190.68,895.26 C191.18,894.89 191.68,894.52 192.18,894.15 C192.68,893.77 193.18,893.40 193.68,893.03 C194.18,892.67 194.69,892.30 195.19,891.93 C195.69,891.56 196.19,891.19 196.69,890.82 C197.19,890.45 197.69,890.08 198.19,889.72 C198.69,889.35 199.19,888.98 199.69,888.62 C200.19,888.25 200.69,887.88 201.19,887.52 C201.69,887.15 202.19,886.79 202.69,886.42 C203.19,886.06 203.70,885.70 204.20,885.34 C204.70,884.97 205.20,884.61 205.70,884.25 C206.20,883.89 206.70,883.53 207.20,883.17 C207.70,882.81 208.20,882.46 208.70,882.10 C209.20,881.74 209.70,881.39 210.20,881.03 C210.70,880.68 211.20,880.32 211.70,879.97 C212.21,879.62 212.71,879.27 213.21,878.92 C213.71,878.57 214.21,878.22 214.71,877.87 C215.21,877.53 215.71,877.18 216.21,876.84 C216.71,876.49 217.21,876.15 217.71,875.81 C218.21,875.47 218.71,875.13 219.21,874.79 C219.71,874.45 220.21,874.11 220.72,873.78 C221.22,873.44 221.72,873.11 222.22,872.78 C222.72,872.44 223.22,872.11 223.72,871.79 C224.22,871.46 224.72,871.13 225.22,870.81 C225.72,870.48 226.22,870.16 226.72,869.84 C227.22,869.52 227.72,869.20 228.22,868.88 C228.72,868.57 229.22,868.25 229.73,867.94 C230.23,867.63 230.73,867.32 231.23,867.01 C231.73,866.70 232.23,866.39 232.73,866.09 C233.23,865.78 233.73,865.48 234.23,865.18 C234.73,864.87 235.23,864.57 235.73,864.28 C236.23,863.98 236.73,863.68 237.23,863.38 C237.73,863.09 238.24,862.79 238.74,862.50 C239.24,862.21 239.74,861.92 240.24,861.62 C240.74,861.33 241.24,861.04 241.74,860.75 C242.24,860.47 242.74,860.18 243.24,859.89 C243.74,859.60 244.24,859.32 244.74,859.03 C245.24,858.74 245.74,858.46 246.24,858.17 C246.74,857.89 247.25,857.60 247.75,857.32 C248.25,857.04 248.75,856.75 249.25,856.47 C249.75,856.18 250.25,855.90 250.75,855.62 C251.25,855.33 251.75,855.05 252.25,854.77 C252.75,854.48 253.25,854.20 253.75,853.92 C254.25,853.63 254.75,853.35 255.25,853.06 C255.76,852.78 256.26,852.49 256.76,852.21 C257.26,851.92 257.76,851.64 258.26,851.35 C258.76,851.06 259.26,850.78 259.76,850.49 C260.26,850.20 260.76,849.91 261.26,849.62 C261.76,849.33 262.26,849.04 262.76,848.75 C263.26,848.46 263.76,848.17 264.26,847.87 C264.77,847.58 265.27,847.28 265.77,846.99 C266.27,846.69 266.77,846.39 267.27,846.09 C267.77,845.79 268.27,845.49 268.77,845.19 C269.27,844.88 269.77,844.58 270.27,844.28 C270.77,843.97 271.27,843.66 271.77,843.36 C272.27,843.05 272.77,842.74 273.28,842.43 C273.78,842.12 274.28,841.80 274.78,841.49 C275.28,841.18 275.78,840.86 276.28,840.55 C276.78,840.23 277.28,839.91 277.78,839.59 C278.28,839.27 278.78,838.95 279.28,838.63 C279.78,838.31 280.28,837.99 280.78,837.67 C281.28,837.34 281.78,837.02 282.29,836.69 C282.79,836.36 283.29,836.04 283.79,835.71 C284.29,835.38 284.79,835.05 285.29,834.72 C285.79,834.39 286.29,834.06 286.79,833.72 C287.29,833.39 287.79,833.06 288.29,832.72 C288.79,832.39 289.29,832.05 289.79,831.71 C290.29,831.38 290.80,831.04 291.30,830.70 C291.80,830.36 292.30,830.02 292.80,829.68 C293.30,829.34 293.80,828.99 294.30,828.65 C294.80,828.31 295.30,827.96 295.80,827.62 C296.30,827.27 296.80,826.93 297.30,826.58 C297.80,826.23 298.30,825.88 298.80,825.53 C299.30,825.19 299.81,824.84 300.31,824.49 C300.81,824.13 301.31,823.78 301.81,823.43 C302.31,823.08 302.81,822.72 303.31,822.37 C303.81,822.02 304.31,821.66 304.81,821.31 C305.31,820.95 305.81,820.59 306.31,820.24 C306.81,819.88 307.31,819.52 307.81,819.16 C308.32,818.80 308.82,818.44 309.32,818.08 C309.82,817.72 310.32,817.36 310.82,817.00 C311.32,816.64 311.82,816.28 312.32,815.92 C312.82,815.55 313.32,815.19 313.82,814.83 C314.32,814.46 314.82,814.10 315.32,813.73 C315.82,813.37 316.32,813.00 316.82,812.63 C317.33,812.27 317.83,811.90 318.33,811.53 C318.83,811.16 319.33,810.80 319.83,810.43 C320.33,810.06 320.83,809.69 321.33,809.32 C321.83,808.95 322.33,808.58 322.83,808.21 C323.33,807.84 323.83,807.47 324.33,807.10 C324.83,806.73 325.33,806.35 325.84,805.98 C326.34,805.61 326.84,805.24 327.34,804.86 C327.84,804.49 328.34,804.12 328.84,803.74 C329.34,803.37 329.84,802.99 330.34,802.62 C330.84,802.25 331.34,801.87 331.84,801.50 C332.34,801.12 332.84,800.74 333.34,800.37 C333.84,799.99 334.34,799.62 334.85,799.24 C335.35,798.87 335.85,798.49 336.35,798.11 C336.85,797.74 337.35,797.36 337.85,796.98 C338.35,796.60 338.85,796.23 339.35,795.85 C339.85,795.47 340.35,795.09 340.85,794.72 C341.35,794.34 341.85,793.96 342.35,793.58 C342.85,793.20 343.36,792.83 343.86,792.45 C344.36,792.07 344.86,791.69 345.36,791.31 C345.86,790.94 346.36,790.56 346.86,790.18 C347.36,789.80 347.86,789.42 348.36,789.04 C348.86,788.66 349.36,788.29 349.86,787.91 C350.36,787.53 350.86,787.15 351.36,786.77 C351.86,786.39 352.37,786.02 352.87,785.64 C353.37,785.26 353.87,784.88 354.37,784.50 C354.87,784.13 355.37,783.75 355.87,783.37 C356.37,782.99 356.87,782.61 357.37,782.24 C357.87,781.86 358.37,781.48 358.87,781.10 C359.37,780.73 359.87,780.35 360.37,779.97 C360.88,779.60 361.38,779.22 361.88,778.84 C362.38,778.47 362.88,778.09 363.38,777.72 C363.88,777.34 364.38,776.96 364.88,776.59 C365.38,776.21 365.88,775.84 366.38,775.46 C366.88,775.09 367.38,774.72 367.88,774.34 C368.38,773.97 368.88,773.59 369.38,773.22 C369.89,772.85 370.39,772.47 370.89,772.10 C371.39,771.73 371.89,771.36 372.39,770.99 C372.89,770.61 373.39,770.24 373.89,769.87 C374.39,769.50 374.89,769.13 375.39,768.76 C375.89,768.39 376.39,768.02 376.89,767.65 C377.39,767.28 377.89,766.92 378.40,766.55 C378.90,766.18 379.40,765.81 379.90,765.45 C380.40,765.08 380.90,764.71 381.40,764.35 C381.90,763.98 382.40,763.61 382.90,763.25 C383.40,762.88 383.90,762.51 384.40,762.15 C384.90,761.78 385.40,761.42 385.90,761.05 C386.40,760.69 386.91,760.32 387.41,759.95 C387.91,759.59 388.41,759.22 388.91,758.86 C389.41,758.49 389.91,758.13 390.41,757.76 C390.91,757.39 391.41,757.03 391.91,756.66 C392.41,756.30 392.91,755.93 393.41,755.56 C393.91,755.20 394.41,754.83 394.91,754.46 C395.41,754.09 395.92,753.72 396.42,753.36 C396.92,752.99 397.42,752.62 397.92,752.25 C398.42,751.88 398.92,751.51 399.42,751.14 C399.92,750.77 400.42,750.40 400.92,750.02 C401.42,749.65 401.92,749.28 402.42,748.90 C402.92,748.53 403.42,748.16 403.92,747.78 C404.43,747.41 404.93,747.03 405.43,746.65 C405.93,746.28 406.43,745.90 406.93,745.52 C407.43,745.14 407.93,744.76 408.43,744.38 C408.93,744.00 409.43,743.62 409.93,743.23 C410.43,742.85 410.93,742.46 411.43,742.08 C411.93,741.69 412.43,741.31 412.93,740.92 C413.44,740.53 413.94,740.14 414.44,739.75 C414.94,739.36 415.44,738.97 415.94,738.57 C416.44,738.18 416.94,737.78 417.44,737.39 C417.94,736.99 418.44,736.59 418.94,736.19 C419.44,735.79 419.94,735.39 420.44,734.99 C420.94,734.59 421.44,734.18 421.95,733.77 C422.45,733.37 422.95,732.96 423.45,732.55 C423.95,732.14 424.45,731.73 424.95,731.31 C425.45,730.90 425.95,730.48 426.45,730.07 C426.95,729.65 427.45,729.23 427.95,728.81 C428.45,728.38 428.95,727.96 429.45,727.53 C429.95,727.11 430.45,726.68 430.96,726.25 C431.46,725.82 431.96,725.39 432.46,724.96 C432.96,724.52 433.46,724.09 433.96,723.65 C434.46,723.22 434.96,722.78 435.46,722.34 C435.96,721.90 436.46,721.46 436.96,721.02 C437.46,720.58 437.96,720.14 438.46,719.70 C438.96,719.26 439.47,718.81 439.97,718.37 C440.47,717.92 440.97,717.48 441.47,717.03 C441.97,716.59 442.47,716.14 442.97,715.69 C443.47,715.25 443.97,714.80 444.47,714.35 C444.97,713.91 445.47,713.46 445.97,713.01 C446.47,712.57 446.97,712.12 447.47,711.67 C447.97,711.23 448.48,710.78 448.98,710.33 C449.48,709.89 449.98,709.44 450.48,709.00 C450.98,708.55 451.48,708.11 451.98,707.66 C452.48,707.22 452.98,706.78 453.48,706.34 C453.98,705.89 454.48,705.45 454.98,705.01 C455.48,704.57 455.98,704.13 456.48,703.70 C456.99,703.26 457.49,702.82 457.99,702.39 C458.49,701.95 458.99,701.52 459.49,701.09 C459.99,700.65 460.49,700.22 460.99,699.80 C461.49,699.37 461.99,698.94 462.49,698.52 C462.99,698.09 463.49,697.67 463.99,697.25 C464.49,696.83 464.99,696.41 465.49,696.00 C466.00,695.58 466.50,695.17 467.00,694.76 C467.50,694.35 468.00,693.94 468.50,693.53 C469.00,693.13 469.75,692.53 470.00,692.33 L471.60,691.20 L472.70,696.40 L473.50,690.40 L473.50,690.40 C473.92,689.87 474.62,688.50 476.00,687.20 C477.38,685.90 480.05,683.92 481.80,682.60 C483.55,681.28 485.72,679.85 486.50,679.30 L487.30,681.60 L488.30,678.30 L488.30,678.30 C489.28,677.53 492.25,675.17 494.20,673.70 C496.15,672.23 498.18,670.72 500.00,669.50 C501.82,668.28 503.30,667.37 505.10,666.40 C506.90,665.43 509.85,664.15 510.80,663.70 L512.20,666.30 L513.30,662.70 L513.30,662.70 C514.17,662.22 516.65,660.67 518.50,659.80 C520.35,658.93 523.42,657.88 524.40,657.50 L525.30,660.80 L526.30,656.90 L526.30,656.90 C527.35,656.42 530.23,654.85 532.60,654.00 C534.97,653.15 538.02,652.28 540.50,651.80 C542.98,651.32 545.00,651.02 547.50,651.10 C550.00,651.18 553.15,651.50 555.50,652.30 C557.85,653.10 559.72,654.37 561.60,655.90 C563.48,657.43 565.33,659.18 566.80,661.50 C568.27,663.82 569.37,667.05 570.40,669.80 C571.43,672.55 572.22,675.08 573.00,678.00 C573.78,680.92 574.58,684.03 575.10,687.30 C575.62,690.57 575.85,692.15 576.10,697.60 C576.35,703.05 576.55,709.60 576.60,720.00 C576.65,730.40 576.47,746.50 576.40,760.00 C576.33,773.50 576.23,794.17 576.20,801.00 L577.80,708.30 L584.10,780.00 L584.10,780.00 C584.73,787.00 587.12,808.00 587.90,822.00 C588.68,836.00 588.55,844.33 588.80,864.00 C589.05,883.67 589.23,920.88 589.40,940.00 C589.57,959.12 589.73,972.25 589.80,978.70 L590.80,870.00 L591.50,597.40 L592.60,597.80 L611.50,594.70 L612.30,597.00 L613.30,594.50 L628.30,590.50 L645.10,584.20 L648.00,583.00 L649.00,586.00 L650.00,582.50 L653.50,582.00 L654.60,591.50 L655.50,581.50 L657.70,581.00" stroke="#d62728" stroke-width="3.6" stroke-linecap="square"/>
</g>
<g stroke="#000" stroke-width="1.33" fill="none">
<rect x="93.8" y="561.8" width="590.3" height="440.8"/>
<line x1="119.80" y1="1002.6" x2="119.80" y2="1008.8" /><line x1="227.34" y1="1002.6" x2="227.34" y2="1008.8" /><line x1="334.88" y1="1002.6" x2="334.88" y2="1008.8" /><line x1="442.42" y1="1002.6" x2="442.42" y2="1008.8" /><line x1="549.96" y1="1002.6" x2="549.96" y2="1008.8" /><line x1="657.50" y1="1002.6" x2="657.50" y2="1008.8" /><line x1="88" y1="982.80" x2="94" y2="982.80" /><line x1="88" y1="902.30" x2="94" y2="902.30" /><line x1="88" y1="821.80" x2="94" y2="821.80" /><line x1="88" y1="741.30" x2="94" y2="741.30" /><line x1="88" y1="660.80" x2="94" y2="660.80" /><line x1="88" y1="580.30" x2="94" y2="580.30" /></g>
<rect x="106.1" y="574.1" width="295.6" height="110.7" rx="4.2" fill="#fff" fill-opacity="0.8" stroke="#cccccc" stroke-width="1.33"/>
<line x1="115.6" y1="592.5" x2="163.0" y2="592.5" stroke="#1f77b4" stroke-width="3.32" stroke-dasharray="3.32 5.48"/>
<line x1="115.6" y1="627.5" x2="163.0" y2="627.5" stroke="#2ca02c" stroke-width="3.32" stroke-dasharray="12.3 5.3"/>
<line x1="115.6" y1="662.6" x2="163.0" y2="662.6" stroke="#d62728" stroke-width="3.6" stroke-linecap="square"/>
<text x="181.96" y="601.00" font-size="25.37" textLength="55.13" lengthAdjust="spacingAndGlyphs">QITE</text>
<text x="182.04" y="636.05" font-size="25.16" textLength="211.30" lengthAdjust="spacingAndGlyphs">Randomized QITE</text>
<text x="182.07" y="671.10" font-size="25.16" textLength="191.77" lengthAdjust="spacingAndGlyphs">RL-steered QITE</text>
<text x="50.85" y="990.55" font-size="21.25" textLength="31.02" lengthAdjust="spacingAndGlyphs">0.0</text>
<text x="50.86" y="910.05" font-size="21.25" textLength="30.63" lengthAdjust="spacingAndGlyphs">0.2</text>
<text x="50.84" y="829.55" font-size="21.25" textLength="31.12" lengthAdjust="spacingAndGlyphs">0.4</text>
<text x="50.84" y="749.05" font-size="21.25" textLength="31.25" lengthAdjust="spacingAndGlyphs">0.6</text>
<text x="50.84" y="668.55" font-size="21.25" textLength="31.14" lengthAdjust="spacingAndGlyphs">0.8</text>
<text x="50.98" y="588.05" font-size="21.25" textLength="30.89" lengthAdjust="spacingAndGlyphs">1.0</text>
<text x="113.87" y="1029.60" font-size="21.25" textLength="11.76" lengthAdjust="spacingAndGlyphs">0</text>
<text x="221.65" y="1029.60" font-size="21.27" textLength="11.18" lengthAdjust="spacingAndGlyphs">1</text>
<text x="328.98" y="1029.60" font-size="21.25" textLength="11.30" lengthAdjust="spacingAndGlyphs">2</text>
<text x="436.72" y="1029.60" font-size="21.25" textLength="11.30" lengthAdjust="spacingAndGlyphs">3</text>
<text x="544.15" y="1029.60" font-size="21.27" textLength="11.73" lengthAdjust="spacingAndGlyphs">4</text>
<text x="651.81" y="1029.60" font-size="21.27" textLength="11.18" lengthAdjust="spacingAndGlyphs">5</text>
<text x="94.16" y="551.20" font-size="30.00" textLength="41.50" lengthAdjust="spacingAndGlyphs">(b)</text>
<text x="379.78" y="1062.50" font-size="30.60" textLength="16.71" lengthAdjust="spacingAndGlyphs" font-style="italic">β</text>
<text x="-0.07" y="0.00" font-size="30.68" textLength="17.66" lengthAdjust="spacingAndGlyphs" font-style="italic" transform="translate(33.6,802.3) rotate(-90)">P</text>
<text x="0.61" y="0.00" font-size="21.05" textLength="22.89" lengthAdjust="spacingAndGlyphs" font-style="italic" transform="translate(38.8,785.6) rotate(-90)">gs</text>

</svg>
</body></html>
